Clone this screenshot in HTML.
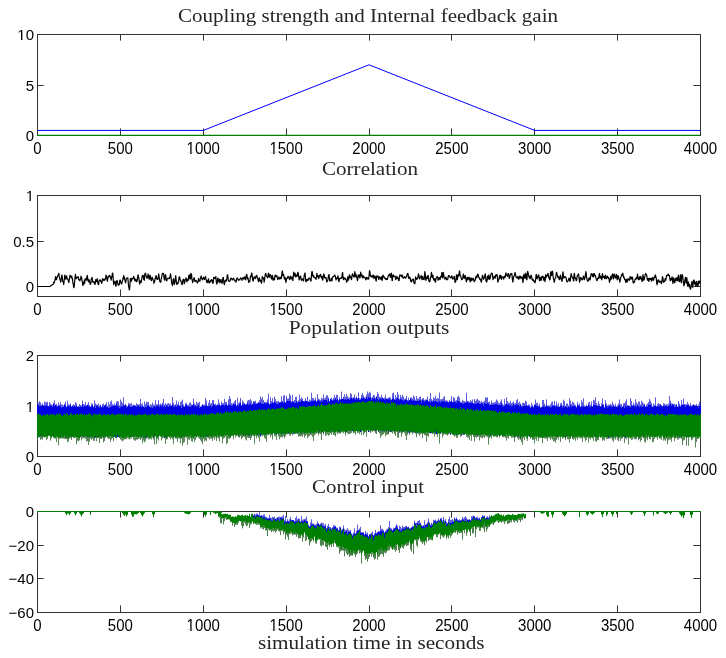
<!DOCTYPE html><html><head><meta charset="utf-8"><style>html,body{margin:0;padding:0;background:#fff;}svg{display:block;filter:blur(0.4px);}.tk{font-family:"Liberation Sans",sans-serif;font-size:15px;fill:#000;}.ti{font-family:"Liberation Serif",serif;font-size:19.5px;fill:#262626;}</style></head><body>
<svg width="726" height="658" viewBox="0 0 726 658">
<rect width="726" height="658" fill="#fff"/>
<path d="M37.5 135V128.4M37.5 34V40.6M120.5 135V128.4M120.5 34V40.6M203.5 135V128.4M203.5 34V40.6M286.5 135V128.4M286.5 34V40.6M369.5 135V128.4M369.5 34V40.6M451.5 135V128.4M451.5 34V40.6M534.5 135V128.4M534.5 34V40.6M617.5 135V128.4M617.5 34V40.6M700.5 135V128.4M700.5 34V40.6M37 135.5H43.6M700 135.5H693.4M37 85.5H43.6M700 85.5H693.4M37 34.5H43.6M700 34.5H693.4" fill="none" stroke="#333" stroke-width="1"/>
<rect x="37.5" y="34.5" width="663" height="101" fill="none" stroke="#333" stroke-width="1"/>
<path d="M37.5 296V289.4M37.5 195V201.6M120.5 296V289.4M120.5 195V201.6M203.5 296V289.4M203.5 195V201.6M286.5 296V289.4M286.5 195V201.6M369.5 296V289.4M369.5 195V201.6M451.5 296V289.4M451.5 195V201.6M534.5 296V289.4M534.5 195V201.6M617.5 296V289.4M617.5 195V201.6M700.5 296V289.4M700.5 195V201.6M37 286.5H43.6M700 286.5H693.4M37 241.5H43.6M700 241.5H693.4M37 195.5H43.6M700 195.5H693.4" fill="none" stroke="#333" stroke-width="1"/>
<rect x="37.5" y="195.5" width="663" height="101" fill="none" stroke="#333" stroke-width="1"/>
<path d="M37.5 456V449.4M37.5 355V361.6M120.5 456V449.4M120.5 355V361.6M203.5 456V449.4M203.5 355V361.6M286.5 456V449.4M286.5 355V361.6M369.5 456V449.4M369.5 355V361.6M451.5 456V449.4M451.5 355V361.6M534.5 456V449.4M534.5 355V361.6M617.5 456V449.4M617.5 355V361.6M700.5 456V449.4M700.5 355V361.6M37 456.5H43.6M700 456.5H693.4M37 406.5H43.6M700 406.5H693.4M37 355.5H43.6M700 355.5H693.4" fill="none" stroke="#333" stroke-width="1"/>
<rect x="37.5" y="355.5" width="663" height="101" fill="none" stroke="#333" stroke-width="1"/>
<path d="M37.5 612V605.4M37.5 511V517.6M120.5 612V605.4M120.5 511V517.6M203.5 612V605.4M203.5 511V517.6M286.5 612V605.4M286.5 511V517.6M369.5 612V605.4M369.5 511V517.6M451.5 612V605.4M451.5 511V517.6M534.5 612V605.4M534.5 511V517.6M617.5 612V605.4M617.5 511V517.6M700.5 612V605.4M700.5 511V517.6M37 612.5H43.6M700 612.5H693.4M37 578.5H43.6M700 578.5H693.4M37 545.5H43.6M700 545.5H693.4M37 511.5H43.6M700 511.5H693.4" fill="none" stroke="#333" stroke-width="1"/>
<rect x="37.5" y="511.5" width="663" height="101" fill="none" stroke="#333" stroke-width="1"/>
<path d="M37.5 130.45 L203.25 130.45 L369 64.8 L534.75 130.45 L700.5 130.45" fill="none" stroke="#0000ff" stroke-width="1"/>
<path d="M37 135.3 H700" fill="none" stroke="#008000" stroke-width="1.2"/>
<path d="M37.5 286.5 L37.87 286.5 L38.24 286.5 L38.61 286.5 L38.97 286.5 L39.34 286.5 L39.71 286.5 L40.08 286.5 L40.45 286.5 L40.82 286.5 L41.19 286.5 L41.55 286.5 L41.92 286.5 L42.29 286.5 L42.66 286.5 L43.03 286.5 L43.4 286.5 L43.77 286.5 L44.13 286.5 L44.5 286.5 L44.87 286.5 L45.24 286.5 L45.61 286.5 L45.98 286.5 L46.34 286.5 L46.71 286.5 L47.08 286.5 L47.45 286.5 L47.82 286.5 L48.19 286.5 L48.56 286.5 L48.92 286.5 L49.29 286.5 L49.66 286.5 L50.03 286.42 L50.4 286.16 L50.77 285.77 L51.14 285.29 L51.5 285.27 L51.87 284.93 L52.24 284.79 L52.61 284.57 L52.98 284.61 L53.35 283.63 L53.72 282.11 L54.08 283.18 L54.45 281.34 L54.82 280.9 L55.19 279.25 L55.56 276.66 L55.93 277.67 L56.3 279.75 L56.66 279.38 L57.03 277.33 L57.4 276.66 L57.77 275.45 L58.14 275.22 L58.51 274.11 L58.88 273.26 L59.24 276.81 L59.61 277.31 L59.98 279.87 L60.35 280.15 L60.72 282.18 L61.09 280.11 L61.45 277.69 L61.82 275 L62.19 275.73 L62.56 279.94 L62.93 281.77 L63.3 281.53 L63.67 284.63 L64.03 281.57 L64.4 278.75 L64.77 275.03 L65.14 276.18 L65.51 278.74 L65.88 279.12 L66.25 278.57 L66.61 275.89 L66.98 278.38 L67.35 278.77 L67.72 278.84 L68.09 280.24 L68.46 281.11 L68.83 282.62 L69.19 280.08 L69.56 278.44 L69.93 275.43 L70.3 275.46 L70.67 276.76 L71.04 276.55 L71.41 277.79 L71.77 276.06 L72.14 278.61 L72.51 278.83 L72.88 283.21 L73.25 283.62 L73.62 287.08 L73.99 287.64 L74.35 284.84 L74.72 280.71 L75.09 276.78 L75.46 274.24 L75.83 278.06 L76.2 278.65 L76.57 278.28 L76.93 277.21 L77.3 277.31 L77.67 277.39 L78.04 276.52 L78.41 277.56 L78.78 279.66 L79.14 279.92 L79.51 279.95 L79.88 280.9 L80.25 279.01 L80.62 279.25 L80.99 276.12 L81.36 277.28 L81.72 278 L82.09 280.95 L82.46 282.56 L82.83 285.34 L83.2 284.85 L83.57 282.41 L83.94 284.04 L84.3 280.32 L84.67 283.19 L85.04 279.17 L85.41 280.15 L85.78 278.57 L86.15 279.77 L86.52 280.16 L86.88 276.41 L87.25 275.39 L87.62 277.69 L87.99 280.5 L88.36 281.46 L88.73 281.83 L89.1 279.6 L89.46 281.29 L89.83 281.91 L90.2 284.45 L90.57 283.67 L90.94 283.2 L91.31 278.84 L91.68 278.74 L92.04 277.39 L92.41 279.53 L92.78 281.7 L93.15 282.39 L93.52 282.54 L93.89 281.54 L94.25 282.75 L94.62 283.57 L94.99 284.48 L95.36 283.13 L95.73 279.5 L96.1 281.65 L96.47 281.5 L96.83 280.35 L97.2 278.63 L97.57 282.41 L97.94 283.28 L98.31 284.7 L98.68 284.34 L99.05 280.44 L99.41 280.56 L99.78 279.93 L100.15 281.1 L100.52 280.04 L100.89 281.4 L101.26 281.92 L101.63 283.27 L101.99 282.67 L102.36 278.81 L102.73 279.33 L103.1 278.93 L103.47 280.24 L103.84 280.4 L104.21 280.59 L104.57 279.14 L104.94 279.7 L105.31 278.77 L105.68 277.74 L106.05 275.18 L106.42 275.57 L106.79 278.1 L107.15 280.76 L107.52 281.1 L107.89 277.75 L108.26 276.48 L108.63 276.94 L109 276.42 L109.36 275.29 L109.73 275.76 L110.1 275.93 L110.47 278.18 L110.84 277.12 L111.21 280.09 L111.58 277.54 L111.94 276.54 L112.31 273.78 L112.68 273.03 L113.05 276.42 L113.42 281.9 L113.79 284.65 L114.16 282.12 L114.52 282.53 L114.89 281.05 L115.26 281.94 L115.63 285.43 L116 286.35 L116.37 282.75 L116.74 280.94 L117.1 280.44 L117.47 281.57 L117.84 283.75 L118.21 285.2 L118.58 284.72 L118.95 284.96 L119.32 284.8 L119.68 280.86 L120.05 280.15 L120.42 280.08 L120.79 282.44 L121.16 283.36 L121.53 284.09 L121.9 283.22 L122.26 281.35 L122.63 280.91 L123 277.8 L123.37 277.36 L123.74 275.47 L124.11 278.99 L124.47 277.39 L124.84 279.88 L125.21 280.85 L125.58 282.87 L125.95 281.16 L126.32 278.71 L126.69 278.33 L127.05 277.94 L127.42 278.22 L127.79 277.78 L128.16 281.05 L128.53 285.95 L128.9 287.52 L129.27 289.88 L129.63 289.25 L130 283.46 L130.37 278.46 L130.74 279.34 L131.11 281.2 L131.48 281.18 L131.85 278.23 L132.21 278.15 L132.58 278.39 L132.95 278.96 L133.32 278.22 L133.69 276.38 L134.06 277.47 L134.43 278.33 L134.79 280.58 L135.16 279.28 L135.53 280.66 L135.9 279.01 L136.27 281.61 L136.64 281.54 L137.01 281.34 L137.37 279.98 L137.74 275.93 L138.11 274.77 L138.48 276.66 L138.85 278.08 L139.22 280.7 L139.59 284.05 L139.95 281.69 L140.32 281.58 L140.69 280.83 L141.06 282.54 L141.43 280.54 L141.8 278.8 L142.16 276.2 L142.53 275.65 L142.9 275.82 L143.27 275.48 L143.64 279.14 L144.01 279.72 L144.38 280.3 L144.74 274.96 L145.11 273.2 L145.48 273.08 L145.85 274.56 L146.22 276.52 L146.59 277.19 L146.96 278.3 L147.32 277.82 L147.69 276.26 L148.06 273.98 L148.43 275.49 L148.8 277.76 L149.17 279.3 L149.54 278.15 L149.9 275.02 L150.27 275.5 L150.64 278.05 L151.01 280.18 L151.38 280.53 L151.75 278.92 L152.12 277.12 L152.48 278.37 L152.85 279.13 L153.22 280.25 L153.59 280.91 L153.96 283.34 L154.33 281.25 L154.7 281.3 L155.06 278.42 L155.43 278.48 L155.8 276.2 L156.17 275.6 L156.54 277.46 L156.91 279.26 L157.27 279.11 L157.64 279.47 L158.01 279.07 L158.38 276.28 L158.75 273.94 L159.12 277.08 L159.49 279.05 L159.85 281.75 L160.22 281.32 L160.59 282.27 L160.96 281.6 L161.33 278.21 L161.7 277.5 L162.07 274.35 L162.43 273.54 L162.8 273.33 L163.17 273.59 L163.54 273.44 L163.91 276.87 L164.28 279.18 L164.65 280.25 L165.01 276.8 L165.38 274.53 L165.75 275.35 L166.12 279.31 L166.49 280.98 L166.86 280.66 L167.23 278.97 L167.59 278.61 L167.96 278.1 L168.33 278.27 L168.7 278.64 L169.07 278.66 L169.44 278.46 L169.81 277.51 L170.17 275.6 L170.54 273.74 L170.91 276.25 L171.28 278.92 L171.65 283.56 L172.02 283.3 L172.38 285.53 L172.75 283.41 L173.12 279.47 L173.49 278.77 L173.86 280.89 L174.23 284.44 L174.6 283.66 L174.96 281.74 L175.33 277.92 L175.7 275.66 L176.07 279.19 L176.44 282.64 L176.81 284.51 L177.18 283.29 L177.54 282.71 L177.91 283.67 L178.28 282.18 L178.65 281.58 L179.02 277.25 L179.39 276.83 L179.76 277.05 L180.12 279.95 L180.49 280.12 L180.86 281 L181.23 282.18 L181.6 283.58 L181.97 284.66 L182.34 284.24 L182.7 280.68 L183.07 279.58 L183.44 279.14 L183.81 279.68 L184.18 283.66 L184.55 283.01 L184.92 281.45 L185.28 279.3 L185.65 278.86 L186.02 277.75 L186.39 279.91 L186.76 281.68 L187.13 281.24 L187.49 279.83 L187.86 279.1 L188.23 280.38 L188.6 276.22 L188.97 275.5 L189.34 274.87 L189.71 278.72 L190.07 278.88 L190.44 278.92 L190.81 273.44 L191.18 274.99 L191.55 274.21 L191.92 279.46 L192.29 280.31 L192.65 282.6 L193.02 281.26 L193.39 279.02 L193.76 279.18 L194.13 277.56 L194.5 279.09 L194.87 281.45 L195.23 281.36 L195.6 280.96 L195.97 280.42 L196.34 281.05 L196.71 281.89 L197.08 282.22 L197.45 283.15 L197.81 282.2 L198.18 280.39 L198.55 278.62 L198.92 280.95 L199.29 280.89 L199.66 281.2 L200.03 280.91 L200.39 277.67 L200.76 277.92 L201.13 275.92 L201.5 278.3 L201.87 278.31 L202.24 279.45 L202.61 279.82 L202.97 278.08 L203.34 277.78 L203.71 277.16 L204.08 278.46 L204.45 279.49 L204.82 278.63 L205.18 277.6 L205.55 276.32 L205.92 279.17 L206.29 279.79 L206.66 282.03 L207.03 280.67 L207.4 282.57 L207.76 282.2 L208.13 280.43 L208.5 278.73 L208.87 281.75 L209.24 283.13 L209.61 282.86 L209.98 282.22 L210.34 280.76 L210.71 281.47 L211.08 280.78 L211.45 279.47 L211.82 279.95 L212.19 280 L212.56 282.83 L212.92 283.29 L213.29 282.38 L213.66 277.37 L214.03 277.77 L214.4 277.59 L214.77 278.64 L215.14 277.95 L215.5 277.39 L215.87 276.6 L216.24 281.09 L216.61 283.83 L216.98 283.85 L217.35 281.66 L217.72 278.26 L218.08 278.17 L218.45 280.77 L218.82 281.88 L219.19 280.66 L219.56 279.39 L219.93 282.89 L220.29 280.64 L220.66 281.33 L221.03 279.27 L221.4 281.79 L221.77 282.47 L222.14 283.42 L222.51 281.22 L222.87 277.72 L223.24 277.42 L223.61 280.33 L223.98 283.16 L224.35 284.55 L224.72 282.5 L225.09 280.41 L225.45 280.14 L225.82 280.62 L226.19 281.45 L226.56 280.17 L226.93 278.14 L227.3 275.08 L227.67 274.8 L228.03 277.95 L228.4 280.72 L228.77 281.21 L229.14 281.26 L229.51 281.44 L229.88 280.8 L230.25 280.46 L230.61 278.47 L230.98 278.21 L231.35 278.29 L231.72 278.51 L232.09 279.83 L232.46 279.86 L232.83 279.01 L233.19 278.73 L233.56 278.19 L233.93 278.76 L234.3 280.25 L234.67 280.05 L235.04 281.02 L235.4 280.89 L235.77 280.98 L236.14 282.24 L236.51 279.63 L236.88 278.2 L237.25 277.94 L237.62 278.65 L237.98 279.34 L238.35 280.09 L238.72 280.17 L239.09 279.97 L239.46 279.7 L239.83 279.94 L240.2 278.66 L240.56 277.92 L240.93 278.24 L241.3 278.71 L241.67 278.78 L242.04 280.35 L242.41 278.5 L242.78 277.93 L243.14 277.56 L243.51 278.12 L243.88 279.23 L244.25 278.62 L244.62 276.77 L244.99 276.86 L245.36 278.57 L245.72 279.95 L246.09 277 L246.46 274.36 L246.83 274.53 L247.2 276.92 L247.57 278.97 L247.94 277.73 L248.3 279.96 L248.67 282.5 L249.04 281.16 L249.41 281.74 L249.78 281.3 L250.15 278.85 L250.52 276.05 L250.88 276.78 L251.25 275.58 L251.62 272.97 L251.99 273.69 L252.36 277.15 L252.73 280.06 L253.09 281.15 L253.46 280.14 L253.83 277.69 L254.2 276.98 L254.57 276.85 L254.94 277.11 L255.31 278.65 L255.67 278.25 L256.04 276.46 L256.41 275.56 L256.78 275.4 L257.15 276.79 L257.52 278.14 L257.89 278.92 L258.25 281.16 L258.62 281.52 L258.99 278.85 L259.36 277.79 L259.73 279.12 L260.1 281.21 L260.47 280.82 L260.83 280.42 L261.2 282.21 L261.57 283.19 L261.94 279.96 L262.31 276.61 L262.68 277.22 L263.05 278.74 L263.41 278 L263.78 279.1 L264.15 282.23 L264.52 279.99 L264.89 276.57 L265.26 274.77 L265.63 273.32 L265.99 273.98 L266.36 275.88 L266.73 276.16 L267.1 276.4 L267.47 277.83 L267.84 277.15 L268.2 274.03 L268.57 273.12 L268.94 275.83 L269.31 277.29 L269.68 275.7 L270.05 274.6 L270.42 274.77 L270.78 275.8 L271.15 278.11 L271.52 279.05 L271.89 277.53 L272.26 275.38 L272.63 276.43 L273 280.1 L273.36 280.23 L273.73 278.34 L274.1 279.58 L274.47 279.58 L274.84 276.38 L275.21 274.96 L275.58 276.26 L275.94 276.52 L276.31 275.75 L276.68 275.58 L277.05 276.28 L277.42 278.7 L277.79 279.51 L278.16 278.46 L278.52 278.07 L278.89 276.98 L279.26 277.58 L279.63 279.15 L280 278.79 L280.37 277.67 L280.74 277.25 L281.1 278.74 L281.47 278.25 L281.84 274.13 L282.21 270.95 L282.58 272.03 L282.95 275.54 L283.31 275.8 L283.68 274.64 L284.05 277.24 L284.42 279.22 L284.79 277.71 L285.16 277.38 L285.53 280.2 L285.89 282.47 L286.26 280.96 L286.63 278.28 L287 278.39 L287.37 278.25 L287.74 276.66 L288.11 276.35 L288.47 276.88 L288.84 277.57 L289.21 278.73 L289.58 279.5 L289.95 278.31 L290.32 276.15 L290.69 276.98 L291.05 278.81 L291.42 278.48 L291.79 277.14 L292.16 277.35 L292.53 280.14 L292.9 280.43 L293.27 276.32 L293.63 272.13 L294 273.28 L294.37 275.87 L294.74 274.24 L295.11 273.27 L295.48 276.3 L295.85 277.08 L296.21 275.18 L296.58 274.82 L296.95 276.26 L297.32 275.95 L297.69 272.91 L298.06 272.19 L298.42 274.28 L298.79 277.46 L299.16 279.92 L299.53 278.29 L299.9 276.74 L300.27 276.36 L300.64 276.14 L301 278.87 L301.37 280.37 L301.74 278.82 L302.11 278.85 L302.48 279.47 L302.85 279.29 L303.22 280.88 L303.58 280.98 L303.95 277.38 L304.32 275.16 L304.69 273.54 L305.06 272.94 L305.43 277.31 L305.8 281.42 L306.16 281.63 L306.53 280.71 L306.9 279.3 L307.27 279.36 L307.64 280.63 L308.01 279.91 L308.38 279.73 L308.74 278.51 L309.11 277.81 L309.48 278.45 L309.85 278.59 L310.22 279.18 L310.59 280.76 L310.96 281.14 L311.32 277.39 L311.69 272.65 L312.06 271.3 L312.43 272.9 L312.8 275.85 L313.17 276.88 L313.54 275.48 L313.9 276.13 L314.27 277.66 L314.64 277.62 L315.01 277.69 L315.38 277.91 L315.75 278.62 L316.11 279.47 L316.48 276.51 L316.85 273.25 L317.22 275.23 L317.59 276.92 L317.96 275.6 L318.33 276.24 L318.69 278.63 L319.06 277.58 L319.43 275.25 L319.8 275.52 L320.17 275.02 L320.54 274.42 L320.91 276.49 L321.27 277.64 L321.64 276.27 L322.01 276.39 L322.38 279.48 L322.75 280.09 L323.12 277.74 L323.49 275.48 L323.85 273.81 L324.22 275.14 L324.59 277.71 L324.96 277.28 L325.33 277.49 L325.7 278.19 L326.07 277.56 L326.43 280.23 L326.8 282.1 L327.17 281.08 L327.54 280.94 L327.91 279.63 L328.28 277.06 L328.65 275.21 L329.01 274.51 L329.38 277.75 L329.75 280.88 L330.12 280.83 L330.49 280.67 L330.86 279.91 L331.22 278.31 L331.59 280.03 L331.96 280.97 L332.33 278.13 L332.7 276.82 L333.07 276.89 L333.44 276.54 L333.8 276.46 L334.17 275.88 L334.54 275.02 L334.91 275.44 L335.28 276.12 L335.65 277.9 L336.02 280.02 L336.38 279.33 L336.75 277.85 L337.12 278.54 L337.49 278.23 L337.86 275.79 L338.23 277.04 L338.6 281.18 L338.96 281.73 L339.33 279.41 L339.7 278.43 L340.07 278.66 L340.44 278.44 L340.81 277.99 L341.18 277.54 L341.54 278.19 L341.91 277.18 L342.28 273.28 L342.65 272.63 L343.02 277.07 L343.39 279.59 L343.76 278.32 L344.12 277.59 L344.49 278.87 L344.86 278.83 L345.23 278.26 L345.6 279.51 L345.97 279.84 L346.33 280.48 L346.7 282.15 L347.07 281.47 L347.44 278.56 L347.81 276.94 L348.18 278.44 L348.55 280.27 L348.91 278.09 L349.28 275 L349.65 274.87 L350.02 276.92 L350.39 277.65 L350.76 276.7 L351.13 278.01 L351.49 279.68 L351.86 277.42 L352.23 274.48 L352.6 273.82 L352.97 274.83 L353.34 275.74 L353.71 276.13 L354.07 277.24 L354.44 275.51 L354.81 271.67 L355.18 273.35 L355.55 276.8 L355.92 276.98 L356.29 275.18 L356.65 274.84 L357.02 278.23 L357.39 280.68 L357.76 279.09 L358.13 277.25 L358.5 275.85 L358.87 274.64 L359.23 275.07 L359.6 276.77 L359.97 278.03 L360.34 275 L360.71 272.21 L361.08 274.1 L361.44 276.2 L361.81 275.48 L362.18 274.98 L362.55 277.61 L362.92 278.12 L363.29 276.1 L363.66 276.14 L364.02 277.37 L364.39 277.62 L364.76 277.63 L365.13 277.64 L365.5 278.72 L365.87 279.88 L366.24 278.12 L366.6 277.2 L366.97 279 L367.34 278.56 L367.71 277.75 L368.08 278.94 L368.45 279.15 L368.82 278.3 L369.18 274.32 L369.55 270.55 L369.92 271.87 L370.29 275.23 L370.66 276.19 L371.03 276.45 L371.4 275.77 L371.76 275.93 L372.13 277.52 L372.5 276.93 L372.87 275.38 L373.24 274.99 L373.61 276.67 L373.98 278.54 L374.34 277.02 L374.71 275.97 L375.08 276.31 L375.45 277.04 L375.82 280.02 L376.19 281.18 L376.56 277.34 L376.92 275.59 L377.29 276.82 L377.66 276.65 L378.03 276.18 L378.4 278.16 L378.77 279.54 L379.13 277.46 L379.5 276.94 L379.87 277.96 L380.24 277.47 L380.61 278.87 L380.98 279.34 L381.35 276.72 L381.71 278.02 L382.08 280.51 L382.45 278.77 L382.82 275.32 L383.19 275.21 L383.56 277.13 L383.93 276.97 L384.29 276.95 L384.66 278.3 L385.03 278 L385.4 278.38 L385.77 279.7 L386.14 279.62 L386.51 278.56 L386.87 278.53 L387.24 279.45 L387.61 278.37 L387.98 276.3 L388.35 275.93 L388.72 275.22 L389.09 274.59 L389.45 273.93 L389.82 274.11 L390.19 276.66 L390.56 277.43 L390.93 276.12 L391.3 273.22 L391.67 274.69 L392.03 280.37 L392.4 280.4 L392.77 276.47 L393.14 274.86 L393.51 275.61 L393.88 276.55 L394.24 276.22 L394.61 276.06 L394.98 276 L395.35 277.51 L395.72 279.66 L396.09 278.95 L396.46 277.48 L396.82 276.36 L397.19 277.09 L397.56 278.27 L397.93 277.75 L398.3 278.88 L398.67 280.75 L399.04 280.58 L399.4 277.82 L399.77 275.09 L400.14 274.91 L400.51 275.35 L400.88 275.2 L401.25 276.09 L401.62 276.77 L401.98 275.2 L402.35 275.06 L402.72 277.08 L403.09 278.1 L403.46 277.58 L403.83 277.88 L404.2 277.78 L404.56 276.67 L404.93 276.91 L405.3 277.81 L405.67 278.21 L406.04 277.24 L406.41 276.91 L406.78 276.28 L407.14 274.05 L407.51 273.71 L407.88 273.44 L408.25 275.24 L408.62 278.32 L408.99 278.5 L409.35 277.17 L409.72 277.08 L410.09 277.71 L410.46 279.85 L410.83 281.46 L411.2 281.77 L411.57 281.6 L411.93 279.85 L412.3 279.61 L412.67 280.16 L413.04 278.92 L413.41 279.19 L413.78 282.02 L414.15 283.36 L414.51 283.4 L414.88 283.6 L415.25 280.2 L415.62 276.89 L415.99 277.84 L416.36 278.97 L416.73 279.5 L417.09 278.83 L417.46 278.19 L417.83 277.62 L418.2 275.26 L418.57 273.94 L418.94 275.76 L419.31 278.13 L419.67 278.92 L420.04 277.94 L420.41 277.04 L420.78 276.54 L421.15 275.5 L421.52 276.36 L421.89 279.71 L422.25 278.91 L422.62 276.48 L422.99 277.88 L423.36 279.17 L423.73 279.53 L424.1 279.59 L424.46 275.93 L424.83 271.67 L425.2 274.14 L425.57 278.94 L425.94 280.31 L426.31 277.99 L426.68 276.75 L427.04 278.55 L427.41 278.47 L427.78 275.61 L428.15 275.4 L428.52 278.17 L428.89 280.99 L429.26 281.58 L429.62 281.82 L429.99 281.05 L430.36 278.4 L430.73 277.28 L431.1 275.3 L431.47 272.45 L431.84 274.54 L432.2 277.48 L432.57 275.68 L432.94 275.23 L433.31 278.5 L433.68 279.92 L434.05 280.07 L434.42 279.21 L434.78 278.7 L435.15 281.78 L435.52 282.05 L435.89 279.45 L436.26 277.96 L436.63 277.39 L437 277.05 L437.36 276.56 L437.73 277.39 L438.1 280.05 L438.47 279.75 L438.84 278.45 L439.21 277.49 L439.58 277.79 L439.94 279.52 L440.31 278.76 L440.68 276.41 L441.05 276.91 L441.42 276.72 L441.79 272.63 L442.15 273 L442.52 277.86 L442.89 276.23 L443.26 272.32 L443.63 273.94 L444 276.84 L444.37 278.44 L444.73 279.05 L445.1 278.95 L445.47 278.27 L445.84 277.03 L446.21 277.9 L446.58 279.65 L446.95 279.94 L447.31 279.54 L447.68 279.28 L448.05 277.74 L448.42 275.58 L448.79 275.49 L449.16 275.87 L449.53 276.29 L449.89 277.06 L450.26 277.84 L450.63 277.31 L451 277.09 L451.37 277.27 L451.74 275.74 L452.11 276.63 L452.47 278.86 L452.84 279.15 L453.21 278.61 L453.58 278.01 L453.95 277.1 L454.32 276.31 L454.69 279.37 L455.05 282.44 L455.42 282.1 L455.79 281.29 L456.16 278.07 L456.53 274.75 L456.9 276.28 L457.26 279.65 L457.63 278.2 L458 274.56 L458.37 275.15 L458.74 276.09 L459.11 273.29 L459.48 270.95 L459.84 272.93 L460.21 275.76 L460.58 276.15 L460.95 276.53 L461.32 278.89 L461.69 279.8 L462.06 279.15 L462.42 279.14 L462.79 278.35 L463.16 275.18 L463.53 273.95 L463.9 276.93 L464.27 278.45 L464.64 277.52 L465 276 L465.37 275.61 L465.74 278.04 L466.11 280.68 L466.48 281.82 L466.85 279.93 L467.22 277.23 L467.58 277.85 L467.95 279.76 L468.32 279.18 L468.69 277.48 L469.06 277.16 L469.43 278.36 L469.8 279.97 L470.16 282.02 L470.53 279.82 L470.9 277.75 L471.27 280.62 L471.64 280.3 L472.01 278.25 L472.37 279.22 L472.74 279.94 L473.11 279.05 L473.48 278.3 L473.85 279.96 L474.22 281.86 L474.59 281.03 L474.95 280.51 L475.32 279.9 L475.69 277.88 L476.06 276.09 L476.43 276.68 L476.8 277.76 L477.17 276.2 L477.53 274.57 L477.9 274.12 L478.27 274.89 L478.64 277.26 L479.01 277.62 L479.38 277.83 L479.75 279.36 L480.11 279.25 L480.48 279.15 L480.85 280.72 L481.22 282.21 L481.59 281.15 L481.96 278 L482.33 275.48 L482.69 275.44 L483.06 277.24 L483.43 279.1 L483.8 279.08 L484.17 277.85 L484.54 277.29 L484.91 275.27 L485.27 273.9 L485.64 277.24 L486.01 280.98 L486.38 281.7 L486.75 281.9 L487.12 279.78 L487.48 276.01 L487.85 277.13 L488.22 279.25 L488.59 276.39 L488.96 274.93 L489.33 277.63 L489.7 279.33 L490.06 278.53 L490.43 276.9 L490.8 275.2 L491.17 273.81 L491.54 273.29 L491.91 273.13 L492.28 273.42 L492.64 276.39 L493.01 279.65 L493.38 278.67 L493.75 277.22 L494.12 277.05 L494.49 276.33 L494.86 277.86 L495.22 278.19 L495.59 275.18 L495.96 274.83 L496.33 275.81 L496.7 275.05 L497.07 274.59 L497.44 278.26 L497.8 282.13 L498.17 281.26 L498.54 279.76 L498.91 279.47 L499.28 276.89 L499.65 275.49 L500.02 278.09 L500.38 277.87 L500.75 275.01 L501.12 277.2 L501.49 279.34 L501.86 277.44 L502.23 276.84 L502.6 277.23 L502.96 276.84 L503.33 278.14 L503.7 279.17 L504.07 277.09 L504.44 276.3 L504.81 277.36 L505.17 277.23 L505.54 274.4 L505.91 272.88 L506.28 274.34 L506.65 274.97 L507.02 275.72 L507.39 276.34 L507.75 274.85 L508.12 273.62 L508.49 273.6 L508.86 275.77 L509.23 278.32 L509.6 277.98 L509.97 276.06 L510.33 274.27 L510.7 273.89 L511.07 274.35 L511.44 273.71 L511.81 273.5 L512.18 277.04 L512.55 281.02 L512.91 282.04 L513.28 279.45 L513.65 276.46 L514.02 276.14 L514.39 275.09 L514.76 273.33 L515.13 272.61 L515.49 273.97 L515.86 276.63 L516.23 277.48 L516.6 277.12 L516.97 277.36 L517.34 278.3 L517.71 276.66 L518.07 276.3 L518.44 278.99 L518.81 279.14 L519.18 278.48 L519.55 277.05 L519.92 275.94 L520.28 276.17 L520.65 277.67 L521.02 278.66 L521.39 277.56 L521.76 276.94 L522.13 276.7 L522.5 278.9 L522.86 282.53 L523.23 280.86 L523.6 276.08 L523.97 274.09 L524.34 275.24 L524.71 277.88 L525.08 278.43 L525.44 274.71 L525.81 273.16 L526.18 276.1 L526.55 279.24 L526.92 279.82 L527.29 275 L527.66 271.26 L528.02 272.63 L528.39 274.06 L528.76 276.23 L529.13 277.45 L529.5 276.86 L529.87 278.6 L530.24 278.61 L530.6 276.29 L530.97 275.2 L531.34 275.54 L531.71 277.02 L532.08 279.57 L532.45 280.21 L532.82 278.96 L533.18 279.59 L533.55 281.13 L533.92 280.92 L534.29 280.78 L534.66 282.24 L535.03 282.75 L535.39 281.26 L535.76 278.12 L536.13 274.61 L536.5 274.62 L536.87 278.49 L537.24 278.77 L537.61 276.26 L537.97 276.96 L538.34 276.47 L538.71 274.81 L539.08 277.38 L539.45 280.68 L539.82 280.16 L540.19 277.41 L540.55 277.56 L540.92 280.32 L541.29 279.81 L541.66 276.77 L542.03 276.27 L542.4 277.21 L542.77 276.04 L543.13 277.07 L543.5 280.04 L543.87 278.86 L544.24 277.19 L544.61 279.73 L544.98 281.74 L545.35 278.93 L545.71 274.68 L546.08 275.46 L546.45 277.1 L546.82 275.29 L547.19 275.93 L547.56 275.38 L547.93 273.32 L548.29 274.23 L548.66 277.06 L549.03 278.39 L549.4 277.36 L549.77 279.84 L550.14 279.42 L550.51 273.49 L550.87 271.54 L551.24 273.88 L551.61 275.61 L551.98 273.5 L552.35 271.16 L552.72 272.43 L553.08 276.28 L553.45 278.8 L553.82 279.9 L554.19 282.17 L554.56 281.43 L554.93 278.75 L555.3 278.36 L555.66 277.91 L556.03 275.36 L556.4 272.29 L556.77 272.82 L557.14 274.81 L557.51 275.67 L557.88 277.67 L558.24 277.46 L558.61 276.65 L558.98 278.65 L559.35 279.69 L559.72 279.48 L560.09 276.72 L560.46 275.12 L560.82 277.08 L561.19 278.46 L561.56 279.77 L561.93 281.31 L562.3 279.41 L562.67 273.96 L563.04 271.81 L563.4 275.45 L563.77 278.13 L564.14 277.67 L564.51 277.26 L564.88 276.67 L565.25 276.57 L565.62 276.93 L565.98 277.55 L566.35 279.25 L566.72 281.02 L567.09 281.97 L567.46 281.7 L567.83 281.1 L568.19 280.46 L568.56 279.59 L568.93 278.09 L569.3 278.27 L569.67 280.7 L570.04 281.38 L570.41 279.73 L570.77 276.06 L571.14 273.52 L571.51 275.17 L571.88 276.46 L572.25 277.04 L572.62 278.03 L572.99 277.28 L573.35 280.28 L573.72 281.01 L574.09 274.07 L574.46 273.43 L574.83 277.94 L575.2 278.52 L575.57 277.85 L575.93 279.03 L576.3 280.77 L576.67 279.77 L577.04 277.09 L577.41 275.65 L577.78 275.11 L578.15 274.3 L578.51 273.88 L578.88 276.57 L579.25 279.56 L579.62 282.14 L579.99 280.68 L580.36 277.57 L580.73 277.98 L581.09 277.76 L581.46 278.29 L581.83 279.92 L582.2 279.73 L582.57 279.42 L582.94 278.32 L583.3 276.14 L583.67 276.37 L584.04 278.93 L584.41 279.64 L584.78 278.31 L585.15 277.1 L585.52 274 L585.88 271.6 L586.25 274.16 L586.62 277.51 L586.99 279.04 L587.36 280.59 L587.73 281.34 L588.1 281.08 L588.46 280.12 L588.83 278.72 L589.2 277.65 L589.57 278.41 L589.94 280.05 L590.31 279.05 L590.68 275.81 L591.04 274.12 L591.41 273.68 L591.78 273.79 L592.15 275.01 L592.52 276.67 L592.89 274.68 L593.26 273.77 L593.62 276.79 L593.99 275.67 L594.36 273.71 L594.73 275.24 L595.1 275.26 L595.47 275.64 L595.84 277.69 L596.2 278.63 L596.57 279.91 L596.94 280.65 L597.31 279.94 L597.68 278.81 L598.05 277.67 L598.41 278.45 L598.78 278.54 L599.15 274.69 L599.52 273.45 L599.89 275.93 L600.26 278.01 L600.63 278.04 L600.99 276.69 L601.36 278.11 L601.73 279.91 L602.1 275.43 L602.47 273.52 L602.84 277.69 L603.21 277.49 L603.57 276.42 L603.94 276.34 L604.31 276.46 L604.68 278.57 L605.05 277.19 L605.42 275.14 L605.79 277.3 L606.15 278.73 L606.52 278.46 L606.89 277.06 L607.26 276.02 L607.63 276.94 L608 277.88 L608.37 278.32 L608.73 277.44 L609.1 279.44 L609.47 282.43 L609.84 280.83 L610.21 279.92 L610.58 277.94 L610.95 276.01 L611.31 279.03 L611.68 279.1 L612.05 275.49 L612.42 274.45 L612.79 273.99 L613.16 276.06 L613.53 278.79 L613.89 277.1 L614.26 274.1 L614.63 274.4 L615 276.55 L615.37 277.5 L615.74 278.18 L616.1 276.85 L616.47 274.25 L616.84 276.55 L617.21 279.94 L617.58 278.68 L617.95 275.79 L618.32 275.64 L618.68 277.81 L619.05 278.95 L619.42 279.73 L619.79 282.07 L620.16 280.93 L620.53 277.83 L620.9 277.33 L621.26 276.23 L621.63 274.3 L622 275.43 L622.37 275.19 L622.74 273.15 L623.11 274.98 L623.48 277.38 L623.84 276.78 L624.21 277.65 L624.58 279.51 L624.95 279.16 L625.32 280.45 L625.69 282.45 L626.06 280.83 L626.42 279.4 L626.79 281.04 L627.16 282.21 L627.53 280.57 L627.9 278.5 L628.27 279.25 L628.64 279.81 L629 279.3 L629.37 280.31 L629.74 278.71 L630.11 276.65 L630.48 279.06 L630.85 278.84 L631.21 277.11 L631.58 278.24 L631.95 279.06 L632.32 277.01 L632.69 278.09 L633.06 282.34 L633.43 283.04 L633.79 282.06 L634.16 282.29 L634.53 281.79 L634.9 280.13 L635.27 279 L635.64 279.43 L636.01 278.18 L636.37 277.81 L636.74 278.86 L637.11 276.71 L637.48 274.07 L637.85 276.27 L638.22 279.06 L638.59 279.68 L638.95 279.78 L639.32 277.61 L639.69 276.72 L640.06 279.1 L640.43 278.22 L640.8 276.45 L641.17 277.72 L641.53 279.21 L641.9 280.98 L642.27 281.36 L642.64 277.8 L643.01 274.62 L643.38 277.26 L643.75 280.18 L644.11 280.01 L644.48 278.4 L644.85 276.69 L645.22 274.77 L645.59 273.33 L645.96 274.01 L646.32 274.47 L646.69 275.09 L647.06 277.73 L647.43 280.18 L647.8 279.6 L648.17 278.31 L648.54 280.53 L648.9 281.47 L649.27 278.56 L649.64 278.29 L650.01 279.52 L650.38 279.08 L650.75 278.23 L651.12 278.56 L651.48 281.06 L651.85 280.76 L652.22 278.01 L652.59 277.55 L652.96 278.96 L653.33 280.24 L653.7 280.19 L654.06 277.67 L654.43 276.6 L654.8 277.41 L655.17 274.97 L655.54 275.14 L655.91 277.28 L656.28 278.39 L656.64 282.26 L657.01 284.78 L657.38 283.28 L657.75 280.82 L658.12 280 L658.49 279.82 L658.86 281.11 L659.22 282.41 L659.59 281.29 L659.96 281.75 L660.33 281.79 L660.7 281.17 L661.07 282.65 L661.43 283.71 L661.8 282.14 L662.17 279.01 L662.54 276.7 L662.91 277.85 L663.28 280.99 L663.65 282.48 L664.01 281.1 L664.38 280.98 L664.75 281.25 L665.12 278.64 L665.49 279.12 L665.86 280.19 L666.23 277.3 L666.59 275.27 L666.96 275.31 L667.33 275.62 L667.7 275.61 L668.07 274.18 L668.44 274.46 L668.81 275.74 L669.17 275.16 L669.54 276.23 L669.91 279.07 L670.28 280.78 L670.65 279.39 L671.02 278.62 L671.39 280 L671.75 278.2 L672.12 276.78 L672.49 280.01 L672.86 283.33 L673.23 280.5 L673.6 277.92 L673.97 279.32 L674.33 281.79 L674.7 282.91 L675.07 280.35 L675.44 278.24 L675.81 279.44 L676.18 280.89 L676.55 279.26 L676.91 277.46 L677.28 278.18 L677.65 280.61 L678.02 278.62 L678.39 275.14 L678.76 278.88 L679.12 281.77 L679.49 281.46 L679.86 280.28 L680.23 275.61 L680.6 274.79 L680.97 280.94 L681.34 282.82 L681.7 277.23 L682.07 274.56 L682.44 275.15 L682.81 277.43 L683.18 281.19 L683.55 283.45 L683.92 285.82 L684.28 284.78 L684.65 281.34 L685.02 279.29 L685.39 277.31 L685.76 280.3 L686.13 283.21 L686.5 279.69 L686.86 277.51 L687.23 281.9 L687.6 286.08 L687.97 283.48 L688.34 281.76 L688.71 285.67 L689.08 286.84 L689.44 284.15 L689.81 285.53 L690.18 288.8 L690.55 289.14 L690.92 287.8 L691.29 285.67 L691.66 283.42 L692.02 281.48 L692.39 283.81 L692.76 287.31 L693.13 284.11 L693.5 280.65 L693.87 279.97 L694.23 280.62 L694.6 283.94 L694.97 284.13 L695.34 282.04 L695.71 285.63 L696.08 286.49 L696.45 281.75 L696.81 281.29 L697.18 283.51 L697.55 285.36 L697.92 286.11 L698.29 284.39 L698.66 281.03 L699.03 281.35 L699.39 283.08 L699.76 281.14 L700.13 281.77 L700.5 282.46" fill="none" stroke="#000" stroke-width="1.2" stroke-linejoin="round"/>
<path d="M37.5 402.08V406.11M38.5 402.88V404.85M39.5 401.17V406.43M40.5 402.44V405.75M41.5 404.62V405.77M42.5 403.31V404.81M43.5 405.05V405.54M44.5 401.49V405.42M45.5 402.2V405.97M46.5 402.29V404.84M47.5 401.78V406.04M48.5 406.01V406.1M49.5 401.95V405.1M50.5 403.41V405.5M51.5 404.57V405.31M52.5 404.72V406.73M53.5 402.53V403.98M54.5 400.31V405.73M55.5 404.52V404.67M56.5 403.78V405.65M57.5 405.36V406.68M58.5 402.33V405.5M59.5 404.71V406.11M60.5 402.3V405.32M61.5 404.26V407.55M62.5 404.73V406.73M63.5 405.41V406.9M64.5 403.71V404.94M65.5 401.66V405.12M66.5 406.68V406.86M67.5 400.67V405.84M68.5 404.25V405.79M69.5 404.65V406.27M70.5 403.36V405M71.5 406.2V406.62M72.5 405.37V406.01M73.5 403.99V406.38M74.5 405.01V405.46M75.5 402.15V406.41M76.5 403.26V405.44M77.5 406.44V406.76M78.5 405.89V406.9M79.5 403.99V406.73M80.5 405.03V406.41M81.5 405.48V406.51M82.5 400.65V403.84M83.5 404.24V406.67M84.5 404.5V405.78M85.5 402.09V406.08M86.5 405.47V405.77M87.5 404.37V404.89M88.5 402.15V405.57M89.5 404.74V406.53M90.5 406.37V407.13M91.5 403.44V405.5M92.5 403.71V405.28M93.5 406.54V407.16M94.5 400.3V405.29M95.5 403.34V407.66M96.5 404.3V406.04M97.5 404.63V405.29M98.5 403.74V406.79M99.5 405.82V407.35M100.5 404.82V404.85M101.5 406.73V407.25M102.5 404.08V405.77M103.5 403.7V407.19M104.5 405V405.7M105.5 403.94V404.74M106.5 402.27V406.4M107.5 405.8V406.74M108.5 401.84V407.68M109.5 404.33V407.38M110.5 401.67V406.56M111.5 400.55V405.81M112.5 404.05V405.58M113.5 404.71V405.76M114.5 403.4V405.34M115.5 405.13V405.78M116.5 401.55V403.96M117.5 401.11V406.14M118.5 401.62V405.98M119.5 405.34V408.05M120.5 399.48V406.61M121.5 401.46V405.62M122.5 402.87V406.45M123.5 397.37V405.02M124.5 404.83V405.52M125.5 404.21V404.51M126.5 405.17V407.15M127.5 406.25V406.47M128.5 403.24V405.06M129.5 403.36V405.95M130.5 403.93V406.76M131.5 402.99V406.4M132.5 405.43V406.31M133.5 404.49V405.31M134.5 405.15V405.49M135.5 405.19V406.08M136.5 403.25V406.74M137.5 404.28V405.34M138.5 404.64V405.1M139.5 404.18V406.92M140.5 398.97V405.26M141.5 403.8V406.86M142.5 403.44V406.19M143.5 406.03V406.7M144.5 401.44V407.4M145.5 404.02V406.55M146.5 401.74V406.62M147.5 402.21V405.27M148.5 401.94V405.44M149.5 405.72V406.52M150.5 404.08V407.23M151.5 404.86V407.11M152.5 402.56V407.85M153.5 404.65V406.25M154.5 404.6V406.16M155.5 400.16V406.8M156.5 404.39V406.02M157.5 403.95V405.95M158.5 400.15V405.16M159.5 404.6V406.79M160.5 403.53V405.14M161.5 404.32V406.41M162.5 402.4V404.86M163.5 398.95V406.88M164.5 404.73V405.18M165.5 402.98V406.67M166.5 404.53V404.73M167.5 403.47V405.65M168.5 403.04V406.94M169.5 403.97V405.36M170.5 403.46V406.05M171.5 405.4V405.62M172.5 397.01V404.15M173.5 402.57V406.25M174.5 404.87V406.35M175.5 404.49V405.11M176.5 400.51V406.46M177.5 404.19V405.36M178.5 401.76V405.2M179.5 405.26V406.01M180.5 402.15V405.45M181.5 401.11V407.83M182.5 399.62V404.76M183.5 404.47V406.59M184.5 406.38V406.79M185.5 403.37V404.42M186.5 402.73V404.61M187.5 404.55V406.45M188.5 405.23V405.61M189.5 402.63V406.31M190.5 402.51V406.91M191.5 404.21V405.7M192.5 404.81V405.15M193.5 398.79V403.82M194.5 403.44V406.16M195.5 405.14V405.26M196.5 401.76V406.25M197.5 403.23V406.19M198.5 402.67V404.89M199.5 401.85V407.38M200.5 406.4V406.87M201.5 405.42V406.68M202.5 404.05V405.05M203.5 404.59V405.66M204.5 404.63V405.5M205.5 397.82V405.56M206.5 400.69V404.94M207.5 405.69V406.14M208.5 402.82V405.93M209.5 400.01V405.99M210.5 403.41V405.25M211.5 403.22V406.63M212.5 400.15V405.7M213.5 399.96V403.32M214.5 404.25V404.94M215.5 403.53V405.36M216.5 404.76V406.13M217.5 404.29V405.07M218.5 399.39V405.06M219.5 403.09V404.69M220.5 405.5V405.7M221.5 401.56V404.76M222.5 403.15V404.59M223.5 403.16V404.43M224.5 398.77V405.42M225.5 401.86V404.5M226.5 401.89V403.54M227.5 405.28V405.33M228.5 399.34V404.22M229.5 396.05V405.02M230.5 398.55V404.98M231.5 403.07V405.6M232.5 403.62V405.42M233.5 402.79V404.08M234.5 401.24V404.36M235.5 400.01V403.41M236.5 405.43V405.74M237.5 397.68V404.7M238.5 403.38V405.41M239.5 401.93V404M240.5 397.87V402.56M241.5 405.13V405.38M242.5 400.45V404.18M243.5 402.02V404.16M244.5 403.19V404.05M245.5 404.41V404.48M246.5 403.9V404.34M247.5 400.66V402.59M248.5 399.94V404.69M249.5 400.15V403.34M250.5 399.02V403.35M251.5 400.69V405.05M252.5 403.29V404.36M253.5 401.01V403.3M254.5 401.43V402.04M255.5 400.75V403.61M256.5 403.29V403.86M257.5 402.9V403.32M258.5 402.23V402.34M259.5 400.26V402.65M260.5 396.52V402.23M261.5 398.8V403.36M262.5 397.15V403.8M263.5 400.04V403.91M264.5 402.3V402.46M265.5 401.84V403.18M266.5 401.82V403.39M267.5 399.36V402.49M268.5 393.73V402.73M269.5 404.11V404.5M270.5 397.22V402.92M271.5 400.99V403.41M272.5 398.15V402.31M273.5 402.51V402.64M274.5 396.71V401.19M275.5 398.94V402.49M276.5 401.46V403.42M277.5 401.3V404.1M278.5 400.95V403.33M279.5 401.89V402.87M280.5 401.71V402.31M281.5 396.32V401.74M282.5 400.82V402.05M283.5 395.58V402.62M284.5 395.07V401.45M285.5 402.28V402.78M286.5 395.88V401.19M287.5 398.76V400.51M288.5 398.47V401.08M289.5 393.61V400.5M290.5 395.47V400.69M291.5 401.35V402.65M292.5 394.69V401.53M293.5 401V401.82M294.5 400V402.52M295.5 396.96V402.55M296.5 396.77V401.1M297.5 401.25V402.51M298.5 400.3V401.71M299.5 394.56V401.36M300.5 399.05V401.66M301.5 397.32V400.12M302.5 398.59V400.58M303.5 400.97V401.07M304.5 400.6V401.6M305.5 398.05V400.77M306.5 400.77V400.91M307.5 396.75V401.74M308.5 401.15V402.05M309.5 399.5V401.49M310.5 400.27V401.84M311.5 392.67V400.45M312.5 397.89V400.48M313.5 398.08V400.93M314.5 399.76V400.39M315.5 397.55V400.18M316.5 400.97V401.86M317.5 394.1V400.32M318.5 398.64V399.66M319.5 399.37V400.78M320.5 399.88V401.81M321.5 397.87V400.36M322.5 398.65V401.23M323.5 394.4V399.85M324.5 398.31V399.75M325.5 397.49V399.55M326.5 395.1V399.94M327.5 395.42V401.47M328.5 397.35V399.03M329.5 401.18V401.22M330.5 398.61V399.05M331.5 397.71V399.62M332.5 399.39V400.43M333.5 397.94V400.22M334.5 394.89V399.89M335.5 397.49V398.3M336.5 394.75V399.86M337.5 395.04V398.7M338.5 399.87V401.53M339.5 397.36V399.25M340.5 399.14V399.53M341.5 391.59V398.41M342.5 398.82V398.9M343.5 396.81V398.2M344.5 394.25V399.97M345.5 397.03V398.92M346.5 393.64V399.54M347.5 396.1V398.49M348.5 397.55V398.59M349.5 397.57V399.97M350.5 393.07V398.12M351.5 394.05V397.4M352.5 397.62V399.12M353.5 397.27V397.84M354.5 394.44V398.35M355.5 397.82V399.38M356.5 396.2V397.95M357.5 398.23V399.26M358.5 392.39V397.96M359.5 398.17V399.65M360.5 398.78V399.47M361.5 394.95V397.98M362.5 392.96V398.14M363.5 395.55V397.6M364.5 397.26V398.38M365.5 397.57V399.09M366.5 394.81V396.96M367.5 391.49V398.81M368.5 393.41V396.96M369.5 391.7V397.34M370.5 392.77V396.64M371.5 397.95V399.8M372.5 396.52V398.22M373.5 394.95V398.41M374.5 395.18V397.72M375.5 397.78V399.17M376.5 396.17V396.68M377.5 392.17V398.43M378.5 393.95V400.22M379.5 397.17V398.2M380.5 397.06V398.57M381.5 394.77V399.14M382.5 397.27V398M383.5 398.07V398.72M384.5 397.51V399.52M385.5 394.71V398.95M386.5 398.26V399.14M387.5 398.6V398.61M388.5 397.53V399.19M389.5 397.04V399.03M390.5 397.54V400.2M391.5 399.53V399.67M392.5 393.44V398.94M393.5 392.46V397.23M394.5 398.96V399.8M395.5 394.89V399.88M396.5 397.18V398.59M397.5 391.98V397.78M398.5 394.46V398.51M399.5 398.72V400.21M400.5 394.93V398.67M401.5 397.02V399.2M402.5 394.84V399.79M403.5 396.47V400.64M404.5 399.1V399.7M405.5 398.09V399.68M406.5 395.93V399.37M407.5 399.92V401.16M408.5 397.6V400.76M409.5 399.84V399.88M410.5 397.5V398.89M411.5 397.32V399.42M412.5 398.54V400.56M413.5 395.42V399.57M414.5 396.8V400.91M415.5 399.65V400.53M416.5 396.05V400.53M417.5 398.45V400.86M418.5 398.72V400.79M419.5 397.06V399.75M420.5 396.59V400.23M421.5 399.5V402.41M422.5 398.32V399.62M423.5 398.08V400.25M424.5 399.8V401.53M425.5 399.62V400.6M426.5 399.28V400.13M427.5 396.41V399.76M428.5 400.94V401.3M429.5 398.62V401.74M430.5 393.09V402.09M431.5 399.09V401.06M432.5 400.41V401.9M433.5 397.1V400.29M434.5 398.25V401.3M435.5 395.54V400.67M436.5 398.84V401.4M437.5 397.96V401.91M438.5 398.44V402.21M439.5 392.55V400.61M440.5 399.32V402.46M441.5 399.27V401.12M442.5 398.92V400.73M443.5 397.35V401.46M444.5 396.12V400.47M445.5 400.5V401.7M446.5 400.23V401.97M447.5 400.71V401.63M448.5 401.6V402.27M449.5 399.81V401.63M450.5 400.99V401.94M451.5 396.26V400.83M452.5 401.95V402.06M453.5 397.1V401.4M454.5 397.92V401.77M455.5 400.57V402.1M456.5 400.1V402.38M457.5 396.94V400.95M458.5 395.83V401.07M459.5 397.48V402.13M460.5 401.37V402.8M461.5 402.19V402.75M462.5 399.7V403.23M463.5 400.94V403.6M464.5 401.19V403.01M465.5 401.6V402.64M466.5 392.88V401.88M467.5 400.84V402M468.5 400.94V402.43M469.5 401.92V403.06M470.5 400.03V403.08M471.5 401.04V402.95M472.5 399.48V402.87M473.5 403.03V403.55M474.5 399.09V403.26M475.5 400.97V403.38M476.5 399.4V403.44M477.5 398.67V402.8M478.5 400.26V402.46M479.5 400.64V403.73M480.5 402.26V403.71M481.5 400.99V403.25M482.5 402.29V403.15M483.5 401.84V405.35M484.5 400.68V402.97M485.5 397.22V403.45M486.5 397.93V403.88M487.5 397.24V402.8M488.5 402.02V403.86M489.5 401.79V405.25M490.5 403.83V404.61M491.5 400.48V404.42M492.5 402.77V404.43M493.5 402.53V404.1M494.5 402.38V404.82M495.5 401.73V403.98M496.5 399.48V403.82M497.5 400.64V404.28M498.5 402.57V404.97M499.5 403.33V404.56M500.5 401.25V404.89M501.5 399.39V402.78M502.5 403.57V405.4M503.5 404.85V406.36M504.5 399.07V405.61M505.5 403.69V404.33M506.5 397.36V403.96M507.5 400.98V404.91M508.5 402.71V403.94M509.5 402.79V405.36M510.5 400.79V404.41M511.5 403.18V405.65M512.5 402.66V406.02M513.5 401.25V403.35M514.5 403.49V405.26M515.5 403.08V404.51M516.5 400.13V403.99M517.5 399.06V404.67M518.5 402.78V405.04M519.5 401.58V406.09M520.5 403.6V404.1M521.5 405.56V406.2M522.5 402.81V407.02M523.5 402.87V405.93M524.5 403.15V405.94M525.5 400.63V405.54M526.5 401.8V404.66M527.5 405.35V406.08M528.5 404.22V406.01M529.5 404.84V406.33M530.5 406.54V407.85M531.5 402.91V406.43M532.5 404.9V406.23M533.5 406.37V407.19M534.5 404.04V404.91M535.5 399.55V405.09M536.5 402.98V405.7M537.5 402.57V405.48M538.5 405.43V406.56M539.5 403.5V405.75M540.5 407.31V407.39M541.5 406.7V407.22M542.5 399.84V406.62M543.5 400.07V405.69M544.5 403.52V406.49M545.5 405.46V406.65M546.5 399.34V405.15M547.5 405.71V406.28M548.5 404.95V406.56M549.5 406.14V406.17M550.5 404.35V407.26M551.5 402.28V406.97M552.5 401.5V405.34M553.5 404.86V406.1M554.5 400.93V405.33M555.5 405.34V406.46M556.5 401.71V405.31M557.5 405.15V406.74M558.5 403.16V406.31M559.5 406.72V406.78M560.5 403.27V405.88M561.5 402.92V404.83M562.5 405.38V407.41M563.5 399.66V405.86M564.5 400.97V407.1M565.5 405.64V406.34M566.5 403.45V406.54M567.5 403.59V407.46M568.5 405.48V406.27M569.5 398.4V407.12M570.5 400.65V404.81M571.5 403.95V406.7M572.5 401.62V405.81M573.5 402.43V405.89M574.5 403.77V406.01M575.5 405.23V406.28M576.5 406.71V407.33M577.5 401.81V404.52M578.5 404.39V406.04M579.5 403.32V405.43M580.5 406.6V406.93M581.5 400.19V405.66M582.5 402.24V406.37M583.5 398.38V405.68M584.5 405.44V406.53M585.5 406.07V406.81M586.5 404.62V405.68M587.5 405.92V406.04M588.5 402.3V404.86M589.5 401.84V406.24M590.5 404.6V406.69M591.5 401.5V405.56M592.5 405.95V406.9M593.5 399.84V404.34M594.5 400.36V404.52M595.5 397.27V404.89M596.5 402.97V405.61M597.5 404.8V406.01M598.5 401.13V405.94M599.5 403.77V405.95M600.5 406.2V406.58M601.5 403.13V405.62M602.5 398.57V404.99M603.5 404.27V405M604.5 407.14V407.69M605.5 400.12V404.12M606.5 403.54V405.86M607.5 405.29V407.17M608.5 404.76V406.39M609.5 405.28V405.34M610.5 403.83V406M611.5 404.7V406.69M612.5 401.79V406.97M613.5 404.19V405.28M614.5 405.79V406.61M615.5 403.6V406.2M616.5 406.48V406.88M617.5 405.05V407.11M618.5 403.26V405.73M619.5 399.48V404.84M620.5 404.14V406.32M621.5 403.87V407.42M622.5 406.44V406.55M623.5 403.33V406.18M624.5 403.02V407.92M625.5 401.57V405.17M626.5 399.31V406.72M627.5 404.83V405.54M628.5 405.3V406.04M629.5 405.88V406.07M630.5 398.21V407.21M631.5 401.03V405.25M632.5 405.54V405.57M633.5 402.85V404.73M634.5 404.64V406.39M635.5 399.19V405.63M636.5 402.51V406.34M637.5 403.88V405.14M638.5 401.46V405.71M639.5 401.59V406.83M640.5 404.48V405.86M641.5 400.69V406.5M642.5 402.03V406.42M643.5 403.68V405.72M644.5 403.61V404.75M645.5 406.45V406.79M646.5 404.52V406.14M647.5 403.58V406.79M648.5 402.06V404.39M649.5 398.96V404.68M650.5 400.6V404.29M651.5 402.91V405.3M652.5 406.35V406.83M653.5 403.53V406.45M654.5 404.75V405.97M655.5 397.35V406.1M656.5 405.88V406.61M657.5 404V405.76M658.5 402.87V406.32M659.5 403.87V406.11M660.5 404.17V404.25M661.5 405V405.69M662.5 405.81V407.09M663.5 403.18V405.68M664.5 403.6V405.89M665.5 404.61V405.51M666.5 404.32V405.61M667.5 404.37V406.9M668.5 403.49V405.79M669.5 396.18V405.18M670.5 400.84V403.51M671.5 403.21V405.54M672.5 403.42V404.43M673.5 404V404.54M674.5 403.87V406.64M675.5 404.71V406.57M676.5 404.09V404.47M677.5 406.61V406.68M678.5 401.09V406.37M679.5 403.53V405.37M680.5 405.67V406.59M681.5 400V404.7M682.5 404V405.04M683.5 398.72V404.85M684.5 403.99V405.11M685.5 404.13V406.7M686.5 404.59V404.93M687.5 401.93V405.08M688.5 403.83V405.24M689.5 405.36V406.16M690.5 403.05V405.73M691.5 405.38V406.69M692.5 405.12V405.43M693.5 404.07V404.97M694.5 404.84V405.6M695.5 405.01V406.03M696.5 403.88V405.25M697.5 406.14V406.22M698.5 404.59V407.45M699.5 401.75V405.53M700.5 402.13V406.03" fill="none" stroke="#2020d0" stroke-opacity="0.72" stroke-width="1"/>
<path d="M37.5 406.11V436.11M38.5 404.85V435.04M39.5 406.43V437.03M40.5 405.75V436.02M41.5 405.77V436.18M42.5 404.81V436.45M43.5 405.54V435.98M44.5 405.42V435.62M45.5 405.97V436.47M46.5 404.84V435.6M47.5 406.04V436.07M48.5 406.1V435.33M49.5 405.1V434.51M50.5 405.5V435.33M51.5 405.31V435.5M52.5 406.73V436.01M53.5 403.98V437.18M54.5 405.73V434.31M55.5 404.67V436.13M56.5 405.65V433.79M57.5 406.68V434.95M58.5 405.5V435.49M59.5 406.11V433.75M60.5 405.32V434.14M61.5 407.55V436.15M62.5 406.73V436.08M63.5 406.9V435.89M64.5 404.94V435.2M65.5 405.12V438.15M66.5 406.86V435.84M67.5 405.84V435.14M68.5 405.79V437.68M69.5 406.27V436.61M70.5 405V435.63M71.5 406.62V437.19M72.5 406.01V436.16M73.5 406.38V436.64M74.5 405.46V436.23M75.5 406.41V434.97M76.5 405.44V436.97M77.5 406.76V436.16M78.5 406.9V434.99M79.5 406.73V435.24M80.5 406.41V436.96M81.5 406.51V435.63M82.5 403.84V436.05M83.5 406.67V436.65M84.5 405.78V436.13M85.5 406.08V434.47M86.5 405.77V436.64M87.5 404.89V436.94M88.5 405.57V436.87M89.5 406.53V437.62M90.5 407.13V436.36M91.5 405.5V436.78M92.5 405.28V437.59M93.5 407.16V435.71M94.5 405.29V437.74M95.5 407.66V437.73M96.5 406.04V436.78M97.5 405.29V437.84M98.5 406.79V436.85M99.5 407.35V435.12M100.5 404.85V437.14M101.5 407.25V436.33M102.5 405.77V436.41M103.5 407.19V436.15M104.5 405.7V437.36M105.5 404.74V436.55M106.5 406.4V435.3M107.5 406.74V436.49M108.5 407.68V436.73M109.5 407.38V435.27M110.5 406.56V435.57M111.5 405.81V435.62M112.5 405.58V435.39M113.5 405.76V436.35M114.5 405.34V437.02M115.5 405.78V437.89M116.5 403.96V437.19M117.5 406.14V437.02M118.5 405.98V437.14M119.5 408.05V437.34M120.5 406.61V435.62M121.5 405.62V436.69M122.5 406.45V436.32M123.5 405.02V435.87M124.5 405.52V435.55M125.5 404.51V435.49M126.5 407.15V435.73M127.5 406.47V434.77M128.5 405.06V436.52M129.5 405.95V435.98M130.5 406.76V436.11M131.5 406.4V436.34M132.5 406.31V436.72M133.5 405.31V435.41M134.5 405.49V435.89M135.5 406.08V434.39M136.5 406.74V433.78M137.5 405.34V434.06M138.5 405.1V437.54M139.5 406.92V434.17M140.5 405.26V436.47M141.5 406.86V437.48M142.5 406.19V435.54M143.5 406.7V437.63M144.5 407.4V437.85M145.5 406.55V436.95M146.5 406.62V438.37M147.5 405.27V436.62M148.5 405.44V435.27M149.5 406.52V436.52M150.5 407.23V435.56M151.5 407.11V434.7M152.5 407.85V434.73M153.5 406.25V438.32M154.5 406.16V435.46M155.5 406.8V435.98M156.5 406.02V435.34M157.5 405.95V436.15M158.5 405.16V435.77M159.5 406.79V435.6M160.5 405.14V434.8M161.5 406.41V434.6M162.5 404.86V435.27M163.5 406.88V436.3M164.5 405.18V438.09M165.5 406.67V437.07M166.5 404.73V437.84M167.5 405.65V436.5M168.5 406.94V435.93M169.5 405.36V434.69M170.5 406.05V436.02M171.5 405.62V433.87M172.5 404.15V435.72M173.5 406.25V437.65M174.5 406.35V436.35M175.5 405.11V437.15M176.5 406.46V435.64M177.5 405.36V434.64M178.5 405.2V435.54M179.5 406.01V435.62M180.5 405.45V437.23M181.5 407.83V438M182.5 404.76V435.28M183.5 406.59V435.66M184.5 406.79V435.88M185.5 404.42V435.67M186.5 404.61V434.78M187.5 406.45V436.12M188.5 405.61V436.39M189.5 406.31V436.41M190.5 406.91V434.82M191.5 405.7V435.91M192.5 405.15V434.29M193.5 403.82V436.94M194.5 406.16V435.01M195.5 405.26V435.75M196.5 406.25V435.58M197.5 406.19V435.44M198.5 404.89V434.97M199.5 407.38V434.26M200.5 406.87V437.76M201.5 406.68V436.28M202.5 405.05V436.29M203.5 405.66V438.12M204.5 405.5V435.88M205.5 405.56V436.5M206.5 404.94V435.93M207.5 406.14V437.06M208.5 405.93V436.34M209.5 405.99V436.12M210.5 405.25V435.51M211.5 406.63V436.01M212.5 405.7V436.86M213.5 403.32V433.58M214.5 404.94V435.5M215.5 405.36V435.17M216.5 406.13V435.25M217.5 405.07V433.54M218.5 405.06V436.21M219.5 404.69V434.6M220.5 405.7V435.18M221.5 404.76V434.87M222.5 404.59V433.67M223.5 404.43V434.85M224.5 405.42V433.42M225.5 404.5V434.28M226.5 403.54V434.88M227.5 405.33V435.15M228.5 404.22V435.17M229.5 405.02V434.95M230.5 404.98V437.18M231.5 405.6V435.45M232.5 405.42V433.75M233.5 404.08V434.33M234.5 404.36V434.24M235.5 403.41V434.69M236.5 405.74V434.23M237.5 404.7V433.94M238.5 405.41V436.41M239.5 404V434.77M240.5 402.56V434.35M241.5 405.38V434.4M242.5 404.18V434.4M243.5 404.16V435.97M244.5 404.05V435.02M245.5 404.48V435.63M246.5 404.34V431.35M247.5 402.59V434.76M248.5 404.69V435.46M249.5 403.34V436.33M250.5 403.35V434.35M251.5 405.05V432.57M252.5 404.36V434.84M253.5 403.3V433.62M254.5 402.04V432.39M255.5 403.61V433.52M256.5 403.86V435.16M257.5 403.32V435.27M258.5 402.34V434.76M259.5 402.65V432.95M260.5 402.23V436.48M261.5 403.36V432.76M262.5 403.8V433.81M263.5 403.91V432.41M264.5 402.46V435.14M265.5 403.18V434.23M266.5 403.39V434.64M267.5 402.49V433.8M268.5 402.73V433.61M269.5 404.5V433.81M270.5 402.92V431.72M271.5 403.41V434.56M272.5 402.31V434.45M273.5 402.64V433.1M274.5 401.19V433.45M275.5 402.49V433.72M276.5 403.42V434.96M277.5 404.1V433.78M278.5 403.33V433.36M279.5 402.87V432.77M280.5 402.31V431.74M281.5 401.74V432.61M282.5 402.05V433.24M283.5 402.62V432.89M284.5 401.45V433.18M285.5 402.78V433.81M286.5 401.19V433.47M287.5 400.51V433.27M288.5 401.08V433.61M289.5 400.5V433.11M290.5 400.69V432.86M291.5 402.65V433.32M292.5 401.53V431.09M293.5 401.82V434.03M294.5 402.52V431.45M295.5 402.55V433.54M296.5 401.1V432.68M297.5 402.51V433.74M298.5 401.71V432.63M299.5 401.36V431.62M300.5 401.66V433.6M301.5 400.12V432.68M302.5 400.58V432.57M303.5 401.07V432.5M304.5 401.6V433.39M305.5 400.77V433.17M306.5 400.91V432.54M307.5 401.74V430.73M308.5 402.05V431.84M309.5 401.49V432.31M310.5 401.84V433.96M311.5 400.45V432.52M312.5 400.48V432.01M313.5 400.93V433.26M314.5 400.39V431.91M315.5 400.18V431.96M316.5 401.86V432.11M317.5 400.32V430.42M318.5 399.66V432.84M319.5 400.78V432.27M320.5 401.81V431.53M321.5 400.36V430.63M322.5 401.23V431.95M323.5 399.85V433.1M324.5 399.75V431.02M325.5 399.55V430.57M326.5 399.94V432.01M327.5 401.47V429.96M328.5 399.03V429.3M329.5 401.22V431.04M330.5 399.05V430.76M331.5 399.62V431.14M332.5 400.43V430.83M333.5 400.22V431.67M334.5 399.89V431.08M335.5 398.3V430.67M336.5 399.86V430.78M337.5 398.7V431.83M338.5 401.53V432.12M339.5 399.25V432.03M340.5 399.53V431.79M341.5 398.41V427.76M342.5 398.9V430.02M343.5 398.2V430.67M344.5 399.97V431.15M345.5 398.92V429.29M346.5 399.54V432.3M347.5 398.49V431.14M348.5 398.59V430.18M349.5 399.97V430.93M350.5 398.12V430.38M351.5 397.4V429.93M352.5 399.12V431.16M353.5 397.84V430.17M354.5 398.35V429.17M355.5 399.38V429.91M356.5 397.95V430.4M357.5 399.26V429.4M358.5 397.96V431.7M359.5 399.65V429.32M360.5 399.47V432.13M361.5 397.98V431.23M362.5 398.14V429.36M363.5 397.6V430.39M364.5 398.38V431.41M365.5 399.09V430M366.5 396.96V428.96M367.5 398.81V430.23M368.5 396.96V432.07M369.5 397.34V428.59M370.5 396.64V430.67M371.5 399.8V430.17M372.5 398.22V430.07M373.5 398.41V429.84M374.5 397.72V429.95M375.5 399.17V431.34M376.5 396.68V430.93M377.5 398.43V429.38M378.5 400.22V431.97M379.5 398.2V429.15M380.5 398.57V431.15M381.5 399.14V430.7M382.5 398V431.76M383.5 398.72V430.95M384.5 399.52V431.69M385.5 398.95V430.64M386.5 399.14V431.68M387.5 398.61V431.08M388.5 399.19V432.93M389.5 399.03V430.12M390.5 400.2V432.04M391.5 399.67V431.35M392.5 398.94V431.1M393.5 397.23V430.39M394.5 399.8V431.44M395.5 399.88V429.56M396.5 398.59V429.7M397.5 397.78V431.82M398.5 398.51V429.59M399.5 400.21V432.61M400.5 398.67V430.94M401.5 399.2V431.5M402.5 399.79V431.36M403.5 400.64V431.74M404.5 399.7V431.08M405.5 399.68V431.03M406.5 399.37V431.31M407.5 401.16V432.52M408.5 400.76V432.64M409.5 399.88V432.82M410.5 398.89V431.94M411.5 399.42V431.41M412.5 400.56V429.97M413.5 399.57V432.33M414.5 400.91V432.56M415.5 400.53V431.36M416.5 400.53V432.6M417.5 400.86V433.12M418.5 400.79V431.96M419.5 399.75V432.96M420.5 400.23V432.25M421.5 402.41V430.24M422.5 399.62V431.54M423.5 400.25V431.64M424.5 401.53V432.62M425.5 400.6V431.26M426.5 400.13V431.72M427.5 399.76V431.23M428.5 401.3V432.19M429.5 401.74V432.34M430.5 402.09V433.28M431.5 401.06V433.14M432.5 401.9V432.54M433.5 400.29V432.65M434.5 401.3V432.56M435.5 400.67V432.6M436.5 401.4V434.07M437.5 401.91V430.07M438.5 402.21V432.42M439.5 400.61V432.94M440.5 402.46V433.8M441.5 401.12V431.61M442.5 400.73V433.08M443.5 401.46V433.64M444.5 400.47V432.36M445.5 401.7V430.94M446.5 401.97V432.52M447.5 401.63V431.72M448.5 402.27V433.61M449.5 401.63V432.14M450.5 401.94V434.81M451.5 400.83V433.21M452.5 402.06V432.29M453.5 401.4V432.63M454.5 401.77V432.08M455.5 402.1V433.6M456.5 402.38V434.74M457.5 400.95V433.07M458.5 401.07V434.24M459.5 402.13V432.41M460.5 402.8V433.7M461.5 402.75V435.73M462.5 403.23V432.06M463.5 403.6V434.73M464.5 403.01V434.71M465.5 402.64V431.69M466.5 401.88V432.17M467.5 402V432.67M468.5 402.43V434.65M469.5 403.06V433.29M470.5 403.08V433.58M471.5 402.95V434.49M472.5 402.87V433.94M473.5 403.55V434.09M474.5 403.26V433.57M475.5 403.38V435.06M476.5 403.44V433.19M477.5 402.8V435.68M478.5 402.46V433.7M479.5 403.73V433.28M480.5 403.71V434.76M481.5 403.25V434.6M482.5 403.15V432.2M483.5 405.35V434.44M484.5 402.97V432.91M485.5 403.45V433.46M486.5 403.88V435.11M487.5 402.8V433.5M488.5 403.86V434.76M489.5 405.25V434.06M490.5 404.61V436.4M491.5 404.42V434.41M492.5 404.43V433.37M493.5 404.1V433.47M494.5 404.82V433.71M495.5 403.98V434.78M496.5 403.82V434.68M497.5 404.28V435.69M498.5 404.97V434.92M499.5 404.56V434.92M500.5 404.89V435.15M501.5 402.78V434.74M502.5 405.4V435.19M503.5 406.36V435.72M504.5 405.61V435.76M505.5 404.33V434.46M506.5 403.96V433.28M507.5 404.91V434.27M508.5 403.94V435.4M509.5 405.36V432.66M510.5 404.41V434.71M511.5 405.65V435.67M512.5 406.02V434.69M513.5 403.35V434.18M514.5 405.26V437.08M515.5 404.51V436.75M516.5 403.99V435.14M517.5 404.67V436.76M518.5 405.04V436.77M519.5 406.09V434.38M520.5 404.1V438.22M521.5 406.2V434.64M522.5 407.02V435.35M523.5 405.93V434.56M524.5 405.94V435.76M525.5 405.54V434.41M526.5 404.66V435.75M527.5 406.08V436.88M528.5 406.01V436.04M529.5 406.33V435.6M530.5 407.85V437.45M531.5 406.43V435.04M532.5 406.23V436.94M533.5 407.19V435.71M534.5 404.91V436.26M535.5 405.09V436.08M536.5 405.7V436.18M537.5 405.48V436M538.5 406.56V435.27M539.5 405.75V435.48M540.5 407.39V436.49M541.5 407.22V435.94M542.5 406.62V434.89M543.5 405.69V435.34M544.5 406.49V435.35M545.5 406.65V435.99M546.5 405.15V436.22M547.5 406.28V436.14M548.5 406.56V435.39M549.5 406.17V436.06M550.5 407.26V434.67M551.5 406.97V433.16M552.5 405.34V435.99M553.5 406.1V434.39M554.5 405.33V435.09M555.5 406.46V434.83M556.5 405.31V436.67M557.5 406.74V434.83M558.5 406.31V436.31M559.5 406.78V435.55M560.5 405.88V434.8M561.5 404.83V434.46M562.5 407.41V436.49M563.5 405.86V436.42M564.5 407.1V436.8M565.5 406.34V437.86M566.5 406.54V436.3M567.5 407.46V436.31M568.5 406.27V435.9M569.5 407.12V436.13M570.5 404.81V435.67M571.5 406.7V435.13M572.5 405.81V438.01M573.5 405.89V434.16M574.5 406.01V436.27M575.5 406.28V436.46M576.5 407.33V436.17M577.5 404.52V435.05M578.5 406.04V435.82M579.5 405.43V435.55M580.5 406.93V434.94M581.5 405.66V435.96M582.5 406.37V435.6M583.5 405.68V435.46M584.5 406.53V436.69M585.5 406.81V434.95M586.5 405.68V436.45M587.5 406.04V435.39M588.5 404.86V436.43M589.5 406.24V436.07M590.5 406.69V436.24M591.5 405.56V435.02M592.5 406.9V435.23M593.5 404.34V435.14M594.5 404.52V436.17M595.5 404.89V436.74M596.5 405.61V437.07M597.5 406.01V435.5M598.5 405.94V436.08M599.5 405.95V434.38M600.5 406.58V433.78M601.5 405.62V435.13M602.5 404.99V435.33M603.5 405V434.44M604.5 407.69V434.22M605.5 404.12V436.52M606.5 405.86V435.19M607.5 407.17V434.31M608.5 406.39V438.3M609.5 405.34V436.16M610.5 406V435.67M611.5 406.69V436.66M612.5 406.97V435.23M613.5 405.28V437.57M614.5 406.61V434.45M615.5 406.2V434.68M616.5 406.88V435.84M617.5 407.11V435.22M618.5 405.73V437.39M619.5 404.84V434.38M620.5 406.32V435.25M621.5 407.42V436.21M622.5 406.55V436.54M623.5 406.18V436.97M624.5 407.92V436.32M625.5 405.17V438.17M626.5 406.72V435.5M627.5 405.54V436.15M628.5 406.04V436.82M629.5 406.07V435.65M630.5 407.21V435.68M631.5 405.25V435.5M632.5 405.57V435.32M633.5 404.73V434.84M634.5 406.39V435.41M635.5 405.63V434.42M636.5 406.34V436.34M637.5 405.14V434.38M638.5 405.71V438.02M639.5 406.83V437.65M640.5 405.86V437.06M641.5 406.5V435.75M642.5 406.42V435.37M643.5 405.72V437.18M644.5 404.75V436.14M645.5 406.79V436.51M646.5 406.14V435.24M647.5 406.79V437.02M648.5 404.39V435.16M649.5 404.68V436.06M650.5 404.29V434.23M651.5 405.3V435.3M652.5 406.83V436.45M653.5 406.45V435.5M654.5 405.97V435.51M655.5 406.1V436.74M656.5 406.61V435.88M657.5 405.76V437.19M658.5 406.32V433.54M659.5 406.11V436.52M660.5 404.25V436.46M661.5 405.69V434.41M662.5 407.09V434.66M663.5 405.68V436.82M664.5 405.89V434.89M665.5 405.51V435.31M666.5 405.61V436.54M667.5 406.9V435.62M668.5 405.79V436.42M669.5 405.18V435.08M670.5 403.51V436.24M671.5 405.54V437.03M672.5 404.43V436.27M673.5 404.54V433.76M674.5 406.64V436.6M675.5 406.57V436.01M676.5 404.47V435.04M677.5 406.68V437.33M678.5 406.37V434.21M679.5 405.37V437.81M680.5 406.59V435.32M681.5 404.7V437.51M682.5 405.04V435.9M683.5 404.85V434.62M684.5 405.11V436.04M685.5 406.7V436.28M686.5 404.93V436.49M687.5 405.08V437M688.5 405.24V435.05M689.5 406.16V436.44M690.5 405.73V436.68M691.5 406.69V435.68M692.5 405.43V435.01M693.5 404.97V434.99M694.5 405.6V436.69M695.5 406.03V436.74M696.5 405.25V435.12M697.5 406.22V434.61M698.5 407.45V437.18M699.5 405.53V434.4M700.5 406.03V436.1" fill="none" stroke="#0000e6" stroke-width="1"/>
<path d="M37.5 413.9V437.19M38.5 413.24V436.54M39.5 414.55V436.23M40.5 414.33V435.53M41.5 415.46V435.75M42.5 416.04V437.3M43.5 414.33V436.67M44.5 415.18V437.19M45.5 415.19V436.14M46.5 414.1V436.73M47.5 413.86V436.76M48.5 415.58V435.77M49.5 414.21V435.67M50.5 414.44V437.32M51.5 414.26V437.09M52.5 414.37V436.25M53.5 414.04V436.9M54.5 414.98V437.5M55.5 415.34V438.41M56.5 414.2V436.28M57.5 413.5V437.46M58.5 414.5V438.64M59.5 413.42V437.03M60.5 414.02V438.13M61.5 415.32V434.95M62.5 416.08V438.11M63.5 414.72V436.97M64.5 413.72V435.51M65.5 415V437.59M66.5 412.9V437.8M67.5 413.98V437.92M68.5 415.52V437.92M69.5 414.98V436.95M70.5 413.5V436.39M71.5 413.3V436.62M72.5 415.06V436.95M73.5 414.43V437.29M74.5 414.05V436.6M75.5 414.75V437.01M76.5 414.06V437.66M77.5 413.12V437.23M78.5 415.02V438.78M79.5 414.01V438.67M80.5 413.76V436.08M81.5 413.53V436.53M82.5 414.63V435.95M83.5 413.9V436.06M84.5 414.9V437.41M85.5 414.27V436.2M86.5 415.21V436.15M87.5 414.19V436.76M88.5 414.01V437.61M89.5 413.09V436.7M90.5 413.7V436.7M91.5 414.96V437.7M92.5 416.59V437.35M93.5 413.59V437.33M94.5 413.74V437.72M95.5 414.7V436.18M96.5 414.79V437.15M97.5 413.99V436.48M98.5 414.52V437.78M99.5 413.34V437.62M100.5 414.25V436.16M101.5 415.09V438.03M102.5 415.6V436.06M103.5 414.34V437.9M104.5 414.28V437.14M105.5 414.78V436.29M106.5 415.23V436.1M107.5 414.8V436.74M108.5 413.94V436.96M109.5 414.71V436.42M110.5 415.14V437.42M111.5 413.97V435.87M112.5 413.53V436.97M113.5 414.82V436.98M114.5 414.72V435.5M115.5 415.14V437.22M116.5 414.52V435.98M117.5 414.01V435.01M118.5 414.16V436.49M119.5 413.75V436.8M120.5 413.8V437.69M121.5 414.07V436.59M122.5 414.13V438.14M123.5 415.24V438.11M124.5 413.61V437.84M125.5 414.43V438.02M126.5 414.05V437.25M127.5 415.5V436.54M128.5 414.65V437.49M129.5 414.2V437.74M130.5 415.03V437.16M131.5 414.51V436.78M132.5 414.13V435.74M133.5 415.53V437.51M134.5 414.96V437.25M135.5 415.67V435.95M136.5 415.27V437.05M137.5 415.01V437.55M138.5 414.56V436.89M139.5 413.71V437.59M140.5 414.96V437.57M141.5 414.52V435.81M142.5 414.94V436.74M143.5 414.46V437.36M144.5 413.99V437.7M145.5 413.77V438.09M146.5 414.96V435.46M147.5 415.37V436.92M148.5 414.27V437.54M149.5 414.79V437.94M150.5 415.43V438.31M151.5 413.89V436.24M152.5 414.23V436.68M153.5 413.69V436.14M154.5 415.29V437.62M155.5 414.65V435.93M156.5 414.15V437.91M157.5 413.32V437.72M158.5 414.35V437.36M159.5 415.16V435.26M160.5 414.27V436.44M161.5 414.18V437.57M162.5 414.92V435.86M163.5 413.61V436.79M164.5 414.51V436.89M165.5 414.89V437.68M166.5 413.93V437.2M167.5 413.9V437.19M168.5 414.64V436.63M169.5 414.4V436.98M170.5 414.31V436.87M171.5 414.62V437.55M172.5 414.63V436.83M173.5 413.83V437.79M174.5 414.01V435.63M175.5 414.79V437.92M176.5 415.25V436.84M177.5 415.41V437.87M178.5 413.89V437.04M179.5 415.23V437.65M180.5 415V438.16M181.5 414.45V436.54M182.5 414.81V437.04M183.5 415.05V436.84M184.5 415.72V437.14M185.5 413.74V435.69M186.5 414.89V436.84M187.5 414.38V436.78M188.5 414.33V436.35M189.5 415.27V436.82M190.5 415.04V435.76M191.5 413.77V438.08M192.5 414.28V437.33M193.5 414.63V438.46M194.5 413.5V436.28M195.5 415.08V436.05M196.5 414.43V437.2M197.5 414.59V435.66M198.5 414.71V437.15M199.5 415.73V436.42M200.5 414.5V436.71M201.5 414.23V437.17M202.5 415.68V437.01M203.5 414.11V438.43M204.5 414.02V437.42M205.5 413.34V435.86M206.5 414.97V437.62M207.5 414.33V435.75M208.5 414.39V436.83M209.5 414.1V435.74M210.5 413.82V436.03M211.5 413.29V437.69M212.5 413.21V436.17M213.5 413.97V436.06M214.5 413.68V436.09M215.5 414.65V436.24M216.5 412.91V437.59M217.5 413.02V435.48M218.5 412.58V435.4M219.5 414.16V436.79M220.5 412.27V435.03M221.5 413.58V435.97M222.5 413.97V437.11M223.5 412.79V436.18M224.5 413.32V435.76M225.5 411.26V435.54M226.5 412.39V435.33M227.5 411.43V435.55M228.5 412.62V436.09M229.5 412.43V436.92M230.5 411.81V436.66M231.5 412.92V435.41M232.5 412.43V435.24M233.5 411.75V436.33M234.5 411.68V434.3M235.5 410.93V435.35M236.5 411.75V435.4M237.5 413.26V434.74M238.5 411.23V434.79M239.5 411.93V435.82M240.5 411.18V434.19M241.5 412.04V434.74M242.5 411.71V434.91M243.5 411.16V435.45M244.5 410.01V434.26M245.5 410.81V436.16M246.5 411.92V435.02M247.5 410.84V435.02M248.5 411.37V434.89M249.5 410.52V434.61M250.5 409.49V434.33M251.5 410.99V435.97M252.5 410.84V435.18M253.5 410.14V434.9M254.5 410.21V435.73M255.5 410.59V434.34M256.5 409.9V435.36M257.5 410.47V434.84M258.5 410.01V434.08M259.5 408.44V435.34M260.5 409.89V433.52M261.5 409.5V435.18M262.5 409.26V433.93M263.5 410.04V434.91M264.5 409.34V435.63M265.5 409.97V434.95M266.5 410.28V433.99M267.5 409.54V434.4M268.5 408.3V434.09M269.5 408.78V433.42M270.5 409.84V433.43M271.5 408.95V434.3M272.5 408.49V434.65M273.5 408.91V432.79M274.5 409.24V434.09M275.5 409V434.5M276.5 409.19V434.15M277.5 408.09V433.24M278.5 408.39V434.8M279.5 408.33V432.99M280.5 408.41V434.42M281.5 406.9V435.13M282.5 408.11V432.22M283.5 407.26V433.99M284.5 409.07V433.99M285.5 409.11V433.88M286.5 409.12V433.06M287.5 408.44V433.38M288.5 407.46V432.49M289.5 408.39V433.65M290.5 407.5V433.93M291.5 407.99V432.95M292.5 406.86V432.7M293.5 407V433.02M294.5 407.65V433.34M295.5 408.48V433.36M296.5 407.16V433.19M297.5 408.65V433.28M298.5 408.92V432.16M299.5 406.05V431.01M300.5 406.84V433.6M301.5 406.12V434.19M302.5 406.61V431.92M303.5 406.26V432.47M304.5 406.5V433.19M305.5 407.14V433.66M306.5 407.04V433.38M307.5 406.49V433.84M308.5 406.24V432.75M309.5 406.24V433.08M310.5 406.16V433.04M311.5 406.4V432.34M312.5 405.92V433.58M313.5 406.19V433.09M314.5 404.86V433.33M315.5 406.23V432.21M316.5 406.82V433.29M317.5 405.66V431.62M318.5 404.47V432.71M319.5 406.31V430.31M320.5 405.07V431.53M321.5 403.15V432.86M322.5 404.99V431.89M323.5 405.48V432.34M324.5 405.25V430.9M325.5 405.76V433.34M326.5 405.25V432.55M327.5 404.83V432.03M328.5 403.3V432.33M329.5 403.82V432.23M330.5 404.63V433.04M331.5 404.9V432.06M332.5 403.64V430.7M333.5 403.85V431.61M334.5 404.52V432.78M335.5 402.8V432.18M336.5 402.69V431.37M337.5 403.8V432.13M338.5 404.06V431.71M339.5 403.47V432.05M340.5 402.14V430.3M341.5 403.66V430.8M342.5 402.65V431.98M343.5 403.94V431.25M344.5 403.34V431.66M345.5 403.52V432.87M346.5 403.7V431.06M347.5 402.81V431.45M348.5 403.67V430.79M349.5 403.88V430.7M350.5 403.22V431.09M351.5 403.79V429.97M352.5 402.35V429.42M353.5 403.34V432.1M354.5 402.82V430.91M355.5 401.87V431.83M356.5 402.42V431.01M357.5 402.03V430.99M358.5 401.93V431.36M359.5 402.3V431.35M360.5 402.89V429.81M361.5 401.86V431.66M362.5 402.09V429.92M363.5 400.91V430.8M364.5 401.92V432.59M365.5 402.57V430.62M366.5 402.25V431.82M367.5 401.94V430.21M368.5 401.17V430.92M369.5 400.86V430.48M370.5 401.54V430.81M371.5 400.76V429.85M372.5 400.91V429.84M373.5 402.5V430.86M374.5 401.29V429.42M375.5 403.25V430.02M376.5 401.09V431.22M377.5 402.46V430.27M378.5 401.43V430.1M379.5 402.44V429.97M380.5 401.67V430.99M381.5 402.5V430.63M382.5 402.44V431.07M383.5 402.32V430.84M384.5 403.06V432.48M385.5 403.83V430.73M386.5 402.45V429.58M387.5 403.56V431.24M388.5 403.08V431.19M389.5 403.08V431.35M390.5 404.7V430.01M391.5 401.75V432.19M392.5 402.86V431.32M393.5 402.16V431.35M394.5 403.27V430.19M395.5 403.41V431.83M396.5 406.29V431.45M397.5 403.97V432.59M398.5 405.05V431.25M399.5 404.78V430.65M400.5 403.66V431.76M401.5 404.37V430.98M402.5 405.28V432.06M403.5 404.32V430.93M404.5 404.42V431.71M405.5 404.7V431.68M406.5 403.39V431.87M407.5 403.95V431.53M408.5 404.82V431.34M409.5 405.05V431.96M410.5 404.11V431.6M411.5 404.6V432.21M412.5 404.82V431.92M413.5 404.88V430.42M414.5 405.54V432.16M415.5 405.21V433.33M416.5 405.33V432.52M417.5 404.31V432.79M418.5 404.64V432.72M419.5 405.67V432.04M420.5 404.42V431.41M421.5 405.8V433.11M422.5 405.23V433.34M423.5 405.2V433M424.5 406.29V432.93M425.5 405.45V432.94M426.5 405.4V432.66M427.5 405.61V432.93M428.5 406.2V432.76M429.5 408.14V433.05M430.5 404.84V432.1M431.5 406.38V432.39M432.5 406.3V433.35M433.5 407.21V432.69M434.5 406.37V431.12M435.5 404.99V433.13M436.5 407.7V431.3M437.5 406.1V434.59M438.5 406.9V433.7M439.5 406.06V433.71M440.5 406.33V432.71M441.5 406.83V432.4M442.5 407.85V433.14M443.5 407.91V433.36M444.5 406.99V432.79M445.5 407.83V433.55M446.5 407.3V433.99M447.5 407.72V433.96M448.5 407.83V432.74M449.5 408.23V431.92M450.5 407.45V433.62M451.5 407.86V433.15M452.5 408.18V434.04M453.5 408.17V435M454.5 407.63V435.04M455.5 409.46V434.04M456.5 408.02V434.71M457.5 408.95V435.16M458.5 408.64V433.97M459.5 409.43V434.19M460.5 407.14V434.67M461.5 410.16V434.03M462.5 408.67V433.71M463.5 408.04V433.56M464.5 409.06V434.18M465.5 410.62V433.74M466.5 409.48V434.87M467.5 408.35V434.04M468.5 408.96V435.46M469.5 410.29V435.3M470.5 408.46V433.46M471.5 409.39V435.28M472.5 409.39V434.18M473.5 411.18V435.58M474.5 409.55V434.96M475.5 410.75V434.58M476.5 409.44V435.17M477.5 409.43V434.27M478.5 410.77V434.98M479.5 410.58V435.07M480.5 409.02V434.7M481.5 410.75V435.15M482.5 410.83V434.13M483.5 410.03V435.36M484.5 410.69V434.05M485.5 410.8V435.48M486.5 410.36V435.41M487.5 410.37V435.63M488.5 410.38V434.7M489.5 410.74V437.48M490.5 410.08V435.04M491.5 411.06V435.36M492.5 410.12V434.71M493.5 411.29V436.42M494.5 411.26V435.01M495.5 410.68V436.17M496.5 412.07V434.73M497.5 412.9V435.73M498.5 412.56V435.25M499.5 410.76V436.28M500.5 412.68V435.39M501.5 412.02V434.99M502.5 411.91V436.03M503.5 411.61V434.82M504.5 412.1V435.04M505.5 413.15V436.39M506.5 412.64V434.43M507.5 412.05V436.46M508.5 411.95V435.62M509.5 412.21V435.27M510.5 412.98V436.19M511.5 413.95V436.53M512.5 412V435.64M513.5 412.81V435.99M514.5 412.62V436.77M515.5 412.44V436.78M516.5 413.32V436.21M517.5 413.51V435.7M518.5 412.22V435.61M519.5 412.56V435.91M520.5 414.19V436.92M521.5 413.66V436.88M522.5 413.88V436.72M523.5 413.25V437.58M524.5 413.41V436.34M525.5 414.07V436.32M526.5 413.48V436.35M527.5 413.14V438.13M528.5 413.99V435.17M529.5 414.69V436.98M530.5 413.43V437.14M531.5 414.95V436.89M532.5 414.79V438.65M533.5 413.78V437.81M534.5 414.46V437.55M535.5 414.45V436.3M536.5 414.92V437.35M537.5 414.94V436.7M538.5 413.57V437.01M539.5 413.54V437.13M540.5 415.19V436.61M541.5 414.55V437.46M542.5 414.77V438.21M543.5 414.71V437.76M544.5 415.54V437.14M545.5 413.64V435.52M546.5 415.23V437.8M547.5 413.91V437.79M548.5 414.98V436.84M549.5 415.41V436.62M550.5 413.52V437.48M551.5 414.76V436.38M552.5 414.28V437.59M553.5 414.27V436.17M554.5 414.51V436.29M555.5 413.75V437M556.5 413.81V435.89M557.5 414.93V436.99M558.5 415.06V437.39M559.5 414.08V436M560.5 413.47V437.69M561.5 416.08V436.57M562.5 415.24V437.4M563.5 414.73V437.15M564.5 413.76V436.65M565.5 414.07V436.6M566.5 414.64V435.71M567.5 413.81V436.47M568.5 415.58V436.41M569.5 414.57V438.23M570.5 414.75V437.76M571.5 413.76V435.96M572.5 413.85V437.59M573.5 413.93V437.16M574.5 414.67V436.71M575.5 414.29V437.34M576.5 414.28V437.59M577.5 414.69V436.57M578.5 414.63V436.79M579.5 415.5V437.12M580.5 414.34V436.26M581.5 413.78V437.13M582.5 414.47V436.93M583.5 415.49V436.49M584.5 414.09V436.36M585.5 414.51V437.22M586.5 414.23V437.65M587.5 414.76V437.24M588.5 414.65V436.36M589.5 413.92V437.56M590.5 414.32V437.12M591.5 415.13V437.44M592.5 415.23V437.87M593.5 415.11V436.32M594.5 415.07V436.89M595.5 414.25V436.55M596.5 414.23V436.34M597.5 415.12V438.5M598.5 413.67V437.7M599.5 414.44V435.68M600.5 413.2V437.32M601.5 414.22V436.58M602.5 413.99V437.86M603.5 413.65V437.06M604.5 414.88V436.87M605.5 413.97V437.1M606.5 414.22V437.29M607.5 414.3V437.02M608.5 413.97V436.83M609.5 415.46V436.9M610.5 414.14V437.38M611.5 414.61V436.15M612.5 413.58V437M613.5 414.15V436.91M614.5 414.25V436.64M615.5 414.27V437.55M616.5 414.08V436.03M617.5 414.58V436.73M618.5 415.55V436.36M619.5 414.39V437.41M620.5 414.38V436.65M621.5 414.21V437.04M622.5 416.22V437.29M623.5 415.59V435.81M624.5 414.86V437.34M625.5 414.96V436.44M626.5 413.99V436.81M627.5 414.37V436.92M628.5 414.62V437.6M629.5 414.56V437.55M630.5 413.89V438.32M631.5 413.94V437.13M632.5 414.83V436.64M633.5 414.69V436.62M634.5 413.03V437.49M635.5 414.54V438.2M636.5 415.35V437.25M637.5 414.03V436.57M638.5 414.64V437.2M639.5 413.48V437.19M640.5 415.05V437.02M641.5 413.71V436.44M642.5 413.62V435.1M643.5 414.26V436.6M644.5 416.11V437.79M645.5 414.06V437.16M646.5 413.61V435.35M647.5 414.8V437M648.5 414.64V435.62M649.5 415.62V438.49M650.5 413.61V437.14M651.5 413.38V436.1M652.5 414.26V437.6M653.5 414.74V436.42M654.5 414.72V437.42M655.5 415.22V437.02M656.5 413.45V436.12M657.5 413.91V437.5M658.5 414.39V436M659.5 415.06V438M660.5 414.81V437.05M661.5 414.19V436.23M662.5 413.78V435.65M663.5 415.08V438.21M664.5 415.13V438.08M665.5 416.34V436.06M666.5 414.36V438.23M667.5 415.59V437.12M668.5 413.65V436.83M669.5 414.11V436.94M670.5 414.01V436.8M671.5 414.16V438.07M672.5 413.88V437.11M673.5 414.11V435.62M674.5 414.44V438.56M675.5 414.17V437.66M676.5 414.93V436.19M677.5 414.42V436.73M678.5 414.48V436.32M679.5 415.49V437.03M680.5 414.7V437.29M681.5 414.59V437.18M682.5 414.47V436.55M683.5 414.52V436.4M684.5 414.87V437.63M685.5 413.93V436.92M686.5 415.26V438.68M687.5 415.56V436.4M688.5 415.27V437.59M689.5 414.14V437.04M690.5 413.39V436.43M691.5 414.18V438.02M692.5 414.58V437.09M693.5 415.05V436.33M694.5 414.35V436.76M695.5 414.27V437.76M696.5 415.52V436.08M697.5 414.02V438.03M698.5 415.21V437.51M699.5 415.1V436.79M700.5 413.57V438.01" fill="none" stroke="#008000" stroke-width="1"/>
<path d="M37.5 437.19V441.28M38.5 436.54V437.94M39.5 436.23V436.63M40.5 435.53V439.84M41.5 435.75V439.24M42.5 437.3V439.47M43.5 436.67V437.16M44.5 437.19V437.69M45.5 436.14V437.1M46.5 436.73V440.23M47.5 436.76V438.87M48.5 435.77V435.96M49.5 435.67V435.91M50.5 437.32V440.62M51.5 437.09V438.42M52.5 436.25V436.38M53.5 436.9V437.54M54.5 437.5V438.51M55.5 438.41V438.67M56.5 436.28V442.14M57.5 437.46V437.48M58.5 438.64V445.31M59.5 437.03V438.79M60.5 438.13V438.6M61.5 434.95V438.3M62.5 438.11V438.39M63.5 436.97V438.62M64.5 435.51V438.7M65.5 437.59V439.34M66.5 437.8V438.99M67.5 437.92V442.26M68.5 437.92V441.31M69.5 436.95V438.64M70.5 436.39V438.01M71.5 436.62V440.01M72.5 436.95V437.02M73.5 437.29V438.19M74.5 436.6V438.12M75.5 437.01V437.7M76.5 437.66V444.28M77.5 437.23V440.74M78.5 438.78V441.46M79.5 438.67V440.25M80.5 436.08V437.42M81.5 436.53V440.36M82.5 435.95V438.12M83.5 436.06V438.27M84.5 437.41V438.14M85.5 436.2V438.74M86.5 436.15V441.45M87.5 436.76V441.13M88.5 437.61V444.98M89.5 436.7V441.57M90.5 436.7V438.43M91.5 437.7V439.84M92.5 437.35V438.7M93.5 437.33V440.88M94.5 437.72V440.73M95.5 436.18V437.54M96.5 437.15V441.3M97.5 436.48V438.07M98.5 437.78V438.15M99.5 437.62V442.96M100.5 436.16V439.04M101.5 438.03V439.06M102.5 436.06V437.73M103.5 437.9V442.52M104.5 437.14V440.99M105.5 436.29V438.07M106.5 436.1V436.8M107.5 436.74V437.93M108.5 436.96V439.09M109.5 436.42V438.91M110.5 437.42V441.83M111.5 435.87V439.49M112.5 436.97V438.22M113.5 436.98V441.1M114.5 435.5V436.97M115.5 437.22V437.82M116.5 435.98V438.87M117.5 435.01V435.36M118.5 436.49V436.69M119.5 436.8V437.79M120.5 437.69V439.44M121.5 436.59V440.35M122.5 438.14V441.33M123.5 438.11V440.43M124.5 437.84V439.36M125.5 438.02V439.23M126.5 437.25V439.27M127.5 436.54V438.1M128.5 437.49V438.82M129.5 437.74V439.53M130.5 437.16V438.65M131.5 436.78V438.35M132.5 435.74V436.61M133.5 437.51V439.5M134.5 437.25V440.64M135.5 435.95V440.61M136.5 437.05V439.7M137.5 437.55V439.61M138.5 436.89V438.99M139.5 437.59V438.62M140.5 437.57V439.97M141.5 435.81V438.32M142.5 436.74V443.33M143.5 437.36V440.5M144.5 437.7V442.42M145.5 438.09V441.13M146.5 435.46V437.65M147.5 436.92V437.69M148.5 437.54V439.38M149.5 437.94V439.33M150.5 438.31V438.53M151.5 436.24V439.5M152.5 436.68V437.65M153.5 436.14V439.48M154.5 437.62V444.35M155.5 435.93V436.39M156.5 437.91V444.07M157.5 437.72V438.8M158.5 437.36V440.65M159.5 435.26V435.48M160.5 436.44V436.67M161.5 437.57V440.51M162.5 435.86V438.62M163.5 436.79V437.42M164.5 436.89V437.36M165.5 437.68V443.93M166.5 437.2V439.54M167.5 437.19V439.18M168.5 436.63V436.65M169.5 436.98V437.69M170.5 436.87V439.33M171.5 437.55V437.67M172.5 436.83V439.33M173.5 437.79V444.29M174.5 435.63V436.75M175.5 437.92V438.6M176.5 436.84V438.82M177.5 437.87V441.89M178.5 437.04V438.31M179.5 437.65V438.67M180.5 438.16V443.41M181.5 436.54V438.64M182.5 437.04V445.58M183.5 436.84V442.83M184.5 437.14V441.98M185.5 435.69V437.5M186.5 436.84V437.51M187.5 436.78V444.8M188.5 436.35V439.31M189.5 436.82V440.09M190.5 435.76V438.09M191.5 438.08V441.08M192.5 437.33V441.53M193.5 438.46V438.89M194.5 436.28V442.18M195.5 436.05V439.86M196.5 437.2V437.6M197.5 435.66V436.58M198.5 437.15V437.64M199.5 436.42V438.95M200.5 436.71V440.29M201.5 437.17V441.75M202.5 437.01V444.21M203.5 438.43V439.12M204.5 437.42V441.36M205.5 435.86V440.32M206.5 437.62V441.25M207.5 435.75V437.25M208.5 436.83V438.06M209.5 435.74V439.56M210.5 436.03V438.55M211.5 437.69V438.82M212.5 436.17V440.94M213.5 436.06V437.7M214.5 436.09V439.6M215.5 436.24V437.53M216.5 437.59V441.04M217.5 435.48V437.58M218.5 435.4V438.5M219.5 436.79V441.55M220.5 435.03V436.71M221.5 435.97V437.1M222.5 437.11V443.26M223.5 436.18V438.69M224.5 435.76V437.95M225.5 435.54V436.77M226.5 435.33V444.19M227.5 435.55V443.07M228.5 436.09V438.59M229.5 436.92V438.91M230.5 436.66V437.89M231.5 435.41V436.02M232.5 435.24V436.22M233.5 436.33V439.24M234.5 434.3V435.08M235.5 435.35V437.51M236.5 435.4V436.04M237.5 434.74V435.78M238.5 434.79V437.16M239.5 435.82V437.6M240.5 434.19V436.21M241.5 434.74V439.3M242.5 434.91V437.7M243.5 435.45V436.56M244.5 434.26V436.95M245.5 436.16V439.35M246.5 435.02V440.51M247.5 435.02V437.51M248.5 434.89V437.93M249.5 434.61V438.19M250.5 434.33V439.87M251.5 435.97V437.65M252.5 435.18V435.43M253.5 434.9V436.01M254.5 435.73V443.79M255.5 434.34V436.03M256.5 435.36V438.42M257.5 434.84V436.24M258.5 434.08V437.71M259.5 435.34V441.44M260.5 433.52V434.69M261.5 435.18V435.42M262.5 433.93V436.41M263.5 434.91V435.36M264.5 435.63V437.9M265.5 434.95V438.88M266.5 433.99V441.61M267.5 434.4V435.24M268.5 434.09V435.24M269.5 433.42V434.32M270.5 433.43V437.46M271.5 434.3V435.35M272.5 434.65V439.48M273.5 432.79V433.05M274.5 434.09V435.9M275.5 434.5V436.62M276.5 434.15V440.12M277.5 433.24V433.34M278.5 434.8V436.33M279.5 432.99V439.42M280.5 434.42V437.11M281.5 435.13V437.43M282.5 432.22V437.14M283.5 433.99V436.1M284.5 433.99V438.21M285.5 433.88V436.41M286.5 433.06V434.47M287.5 433.38V434.21M288.5 432.49V433.8M289.5 433.65V435.55M290.5 433.93V435.56M291.5 432.95V433.93M292.5 432.7V435.44M293.5 433.02V433.32M294.5 433.34V434.25M295.5 433.36V433.64M296.5 433.19V433.52M297.5 433.28V433.74M298.5 432.16V436.54M299.5 431.01V436.18M300.5 433.6V436.36M301.5 434.19V435.75M302.5 431.92V436.84M303.5 432.47V434.54M304.5 433.19V437.79M305.5 433.66V435.92M306.5 433.38V434.65M307.5 433.84V438.31M308.5 432.75V436.87M309.5 433.08V436.05M310.5 433.04V434.59M311.5 432.34V435.33M312.5 433.58V436.81M313.5 433.09V440.93M314.5 433.33V435.43M315.5 432.21V434.23M316.5 433.29V433.49M317.5 431.62V432.89M318.5 432.71V435.42M319.5 430.31V433.5M320.5 431.53V434.11M321.5 432.86V440.03M322.5 431.89V432.52M323.5 432.34V434.57M324.5 430.9V431.6M325.5 433.34V436.13M326.5 432.55V435.13M327.5 432.03V434.26M328.5 432.33V435.74M329.5 432.23V434.93M330.5 433.04V433.19M331.5 432.06V434.83M332.5 430.7V432.49M333.5 431.61V434.98M334.5 432.78V435.04M335.5 432.18V436.43M336.5 431.37V432.58M337.5 432.13V434.46M338.5 431.71V432.87M339.5 432.05V433.72M340.5 430.3V433.61M341.5 430.8V432.36M342.5 431.98V432.36M343.5 431.25V433.13M344.5 431.66V431.73M345.5 432.87V435.65M346.5 431.06V431.79M347.5 431.45V433.19M348.5 430.79V434.24M349.5 430.7V433.91M350.5 431.09V433.61M351.5 429.97V432.78M352.5 429.42V430.78M353.5 432.1V433.33M354.5 430.91V432.89M355.5 431.83V434.93M356.5 431.01V431.14M357.5 430.99V433.02M358.5 431.36V432.49M359.5 431.35V434.01M360.5 429.81V430.76M361.5 431.66V434.99M362.5 429.92V431.04M363.5 430.8V435.12M364.5 432.59V433.18M365.5 430.62V432.13M366.5 431.82V436.58M367.5 430.21V430.23M368.5 430.92V430.99M369.5 430.48V431.95M370.5 430.81V432.91M371.5 429.85V431.16M372.5 429.84V431.98M373.5 430.86V430.93M374.5 429.42V431.32M375.5 430.02V433.35M376.5 431.22V434M377.5 430.27V430.37M378.5 430.1V431.71M379.5 429.97V433.27M380.5 430.99V437.75M381.5 430.63V435.7M382.5 431.07V434.73M383.5 430.84V434.22M384.5 432.48V432.78M385.5 430.73V436.37M386.5 429.58V434.71M387.5 431.24V434.52M388.5 431.19V434.49M389.5 431.35V431.86M390.5 430.01V431.26M391.5 432.19V432.2M392.5 431.32V433.6M393.5 431.35V431.74M394.5 430.19V433.94M395.5 431.83V436.02M396.5 431.45V431.88M397.5 432.59V437.46M398.5 431.25V437.75M399.5 430.65V432.01M400.5 431.76V432.58M401.5 430.98V436.59M402.5 432.06V433.55M403.5 430.93V431.82M404.5 431.71V433.17M405.5 431.68V435.83M406.5 431.87V439.94M407.5 431.53V434.76M408.5 431.34V431.75M409.5 431.96V435.03M410.5 431.6V432.81M411.5 432.21V432.53M412.5 431.92V434.4M413.5 430.42V432.32M414.5 432.16V432.35M415.5 433.33V433.37M416.5 432.52V437.2M417.5 432.79V433.52M418.5 432.72V433.83M419.5 432.04V435.93M420.5 431.41V434.48M421.5 433.11V433.67M422.5 433.34V438.1M423.5 433V433.73M424.5 432.93V435M425.5 432.94V435.32M426.5 432.66V441.47M427.5 432.93V436.05M428.5 432.76V436.68M429.5 433.05V433.17M430.5 432.1V432.27M431.5 432.39V433.06M432.5 433.35V434.23M433.5 432.69V433.44M434.5 431.12V436.74M435.5 433.13V434.46M436.5 431.3V431.54M437.5 434.59V436.82M438.5 433.7V433.77M439.5 433.71V443.57M440.5 432.71V433.73M441.5 432.4V433.26M442.5 433.14V437.41M443.5 433.36V435.22M444.5 432.79V434.13M445.5 433.55V434.81M446.5 433.99V434.48M447.5 433.96V435.84M448.5 432.74V434.25M449.5 431.92V433.62M450.5 433.62V433.85M451.5 433.15V433.45M452.5 434.04V434.96M453.5 435V435.01M454.5 435.04V436.72M455.5 434.04V435.75M456.5 434.71V437.93M457.5 435.16V437.62M458.5 433.97V435.08M459.5 434.19V434.58M460.5 434.67V436.84M461.5 434.03V435.44M462.5 433.71V434.8M463.5 433.56V433.87M464.5 434.18V434.54M465.5 433.74V434.17M466.5 434.87V436.9M467.5 434.04V437.6M468.5 435.46V437.74M469.5 435.3V440.18M470.5 433.46V435.86M471.5 435.28V440.86M472.5 434.18V434.74M473.5 435.58V436.95M474.5 434.96V441.52M475.5 434.58V437.07M476.5 435.17V437.77M477.5 434.27V436.86M478.5 434.98V436.52M479.5 435.07V440.63M480.5 434.7V437.32M481.5 435.15V437.83M482.5 434.13V438.19M483.5 435.36V436.99M484.5 434.05V437.94M485.5 435.48V436.12M486.5 435.41V436.69M487.5 435.63V437.08M488.5 434.7V444.6M489.5 437.48V438.29M490.5 435.04V435.38M491.5 435.36V438.81M492.5 434.71V435.82M493.5 436.42V436.48M494.5 435.01V436.83M495.5 436.17V436.29M496.5 434.73V437.48M497.5 435.73V437.11M498.5 435.25V435.48M499.5 436.28V437.66M500.5 435.39V436.03M501.5 434.99V435.21M502.5 436.03V437.2M503.5 434.82V437.16M504.5 435.04V436.76M505.5 436.39V437.91M506.5 434.43V440.54M507.5 436.46V437.78M508.5 435.62V438.65M509.5 435.27V435.79M510.5 436.19V436.38M511.5 436.53V437.88M512.5 435.64V437.58M513.5 435.99V437.61M514.5 436.77V441.8M515.5 436.78V437.35M516.5 436.21V436.64M517.5 435.7V438.09M518.5 435.61V440.2M519.5 435.91V438.62M520.5 436.92V439.82M521.5 436.88V442.19M522.5 436.72V444.82M523.5 437.58V437.61M524.5 436.34V440.16M525.5 436.32V436.77M526.5 436.35V438.81M527.5 438.13V440.93M528.5 435.17V435.92M529.5 436.98V436.99M530.5 437.14V438.83M531.5 436.89V437.38M532.5 438.65V439.86M533.5 437.81V439.83M534.5 437.55V443.35M535.5 436.3V438.72M536.5 437.35V440.83M537.5 436.7V437.6M538.5 437.01V441.08M539.5 437.13V438.07M540.5 436.61V438.15M541.5 437.46V437.9M542.5 438.21V443.14M543.5 437.76V437.9M544.5 437.14V438.3M545.5 435.52V438.84M546.5 437.8V438.38M547.5 437.79V440.95M548.5 436.84V437.56M549.5 436.62V437.99M550.5 437.48V440.09M551.5 436.38V438.33M552.5 437.59V439.49M553.5 436.17V441.34M554.5 436.29V441.03M555.5 437V442.56M556.5 435.89V439.84M557.5 436.99V437.93M558.5 437.39V439.38M559.5 436V437.04M560.5 437.69V442.01M561.5 436.57V436.72M562.5 437.4V438.81M563.5 437.15V438.16M564.5 436.65V437.45M565.5 436.6V440.21M566.5 435.71V437.31M567.5 436.47V439.23M568.5 436.41V439.33M569.5 438.23V442.49M570.5 437.76V438.95M571.5 435.96V436.29M572.5 437.59V439.08M573.5 437.16V439.74M574.5 436.71V438.57M575.5 437.34V440.79M576.5 437.59V437.94M577.5 436.57V439.66M578.5 436.79V437.56M579.5 437.12V437.81M580.5 436.26V438.49M581.5 437.13V438.32M582.5 436.93V442.12M583.5 436.49V437.44M584.5 436.36V438.22M585.5 437.22V441.64M586.5 437.65V439.84M587.5 437.24V437.29M588.5 436.36V442.65M589.5 437.56V438.6M590.5 437.12V439.52M591.5 437.44V437.69M592.5 437.87V438.33M593.5 436.32V440.86M594.5 436.89V436.93M595.5 436.55V441.45M596.5 436.34V441.66M597.5 438.5V440.3M598.5 437.7V440.01M599.5 435.68V436.92M600.5 437.32V437.98M601.5 436.58V437.31M602.5 437.86V440.86M603.5 437.06V439.72M604.5 436.87V440.66M605.5 437.1V437.68M606.5 437.29V438.92M607.5 437.02V438.97M608.5 436.83V437.02M609.5 436.9V438.49M610.5 437.38V438.5M611.5 436.15V438.29M612.5 437V440.54M613.5 436.91V441.72M614.5 436.64V438.29M615.5 437.55V439.7M616.5 436.03V437.46M617.5 436.73V440.16M618.5 436.36V441.42M619.5 437.41V438.36M620.5 436.65V440.95M621.5 437.04V438.81M622.5 437.29V438.42M623.5 435.81V437.06M624.5 437.34V442.87M625.5 436.44V437.43M626.5 436.81V439.45M627.5 436.92V437.82M628.5 437.6V444.49M629.5 437.55V437.76M630.5 438.32V438.45M631.5 437.13V439.96M632.5 436.64V439.48M633.5 436.62V437.76M634.5 437.49V439.2M635.5 438.2V439.2M636.5 437.25V439.24M637.5 436.57V437.1M638.5 437.2V440.32M639.5 437.19V439.15M640.5 437.02V441.65M641.5 436.44V440.06M642.5 435.1V437.18M643.5 436.6V438.17M644.5 437.79V441.62M645.5 437.16V442.71M646.5 435.35V438.66M647.5 437V440.34M648.5 435.62V436.8M649.5 438.49V439.22M650.5 437.14V439.45M651.5 436.1V437.07M652.5 437.6V442.41M653.5 436.42V441.77M654.5 437.42V439.04M655.5 437.02V437.38M656.5 436.12V437.7M657.5 437.5V439.8M658.5 436V436.5M659.5 438V438.51M660.5 437.05V438.58M661.5 436.23V440.1M662.5 435.65V436.63M663.5 438.21V440.65M664.5 438.08V439.7M665.5 436.06V441.01M666.5 438.23V438.54M667.5 437.12V444.2M668.5 436.83V440.42M669.5 436.94V439.47M670.5 436.8V439.53M671.5 438.07V441.87M672.5 437.11V437.53M673.5 435.62V437.38M674.5 438.56V441.18M675.5 437.66V438.42M676.5 436.19V437.99M677.5 436.73V439.5M678.5 436.32V439.42M679.5 437.03V437.42M680.5 437.29V438.13M681.5 437.18V438.73M682.5 436.55V444.93M683.5 436.4V440.62M684.5 437.63V439.84M685.5 436.92V437.21M686.5 438.68V445.7M687.5 436.4V437.35M688.5 437.59V445.77M689.5 437.04V437.52M690.5 436.43V436.84M691.5 438.02V440.25M692.5 437.09V439.67M693.5 436.33V437.84M694.5 436.76V437.28M695.5 437.76V447.54M696.5 436.08V442.09M697.5 438.03V438.76M698.5 437.51V439.04M699.5 436.79V437.57M700.5 438.01V439.61" fill="none" stroke="#2f6a2f" stroke-opacity="0.8" stroke-width="1"/>
<path d="M253.5 514.92V515.71M254.5 513.76V515.24M255.5 514.63V516.22M256.5 513.66V515.12M257.5 513.47V514.58M258.5 515.06V515.17M259.5 512.16V515.66M260.5 515.75V515.8M261.5 514.88V516.09M262.5 515.68V516.37M263.5 514.44V517.16M264.5 514.38V516.82M265.5 516.64V518.23M266.5 517.13V517.7M267.5 517.79V518.83M268.5 518.04V518.97M269.5 515.13V518.38M270.5 517.4V518.36M271.5 518.13V520.25M272.5 516.9V520.33M273.5 517.15V517.6M274.5 516.48V519.19M275.5 518.68V518.92M276.5 517.83V519.6M277.5 517.26V518M278.5 516.89V519.02M279.5 516.57V520.34M280.5 517.12V517.43M281.5 516.59V518.31M282.5 516.39V518.34M283.5 514.88V517.4M284.5 519.76V521.54M285.5 516.13V521.32M286.5 521.39V521.63M287.5 518.96V521.02M288.5 520.83V521.27M289.5 519.31V521.67M290.5 516.9V519.35M291.5 519.6V520.36M292.5 520.05V520.09M293.5 520.12V520.18M294.5 520.9V522.09M295.5 517.83V521.31M296.5 516.09V521.25M297.5 519.36V521.06M298.5 518.38V519.21M299.5 518.61V521.2M300.5 521.21V521.92M301.5 515.8V520.88M302.5 519.69V521.72M303.5 519.28V521.28M304.5 519.05V519.67M305.5 518.58V521.19M306.5 516.45V520.88M307.5 521.32V521.38M308.5 524.41V525.93M309.5 526.29V526.99M310.5 522.49V525.78M311.5 519.21V524.38M312.5 523.45V524.17M313.5 523.68V524.36M314.5 524.48V525.53M315.5 524.67V526.14M316.5 523.92V525.7M317.5 521.53V523.88M318.5 523.14V523.46M319.5 524.6V524.98M320.5 523.54V524.19M321.5 522.47V524.44M322.5 523.24V525.75M323.5 523.15V526.32M324.5 525.46V526.35M325.5 523.99V525.82M326.5 527.87V529.42M327.5 525.94V528.05M328.5 523.89V526.81M329.5 526.91V528.73M330.5 527.08V528.16M331.5 528.56V529.42M332.5 527.37V527.53M333.5 525.21V527.27M334.5 525.46V526.64M335.5 525.94V526.28M336.5 527.54V528.43M337.5 527.73V528.4M338.5 530V530.77M339.5 526.53V529.42M340.5 527.02V527.89M341.5 529.65V531.11M342.5 529.03V529.6M343.5 525.4V528.12M344.5 528.96V531.99M345.5 530.28V531.29M346.5 529.54V531.14M347.5 528.27V533.4M348.5 529.86V532.13M349.5 530.77V531.53M350.5 529.88V531.31M351.5 533.52V533.67M352.5 534.53V535.63M353.5 532.42V534.21M354.5 528.16V533.34M355.5 533.31V534.07M356.5 530.48V532.37M357.5 524.68V530.73M358.5 530.05V530.2M359.5 528.53V529.63M360.5 526.81V532.13M361.5 532.38V533.02M362.5 532.32V532.56M363.5 532.2V533.12M364.5 534.33V534.79M365.5 530.94V533.59M366.5 533.26V535.01M367.5 532.56V534.69M368.5 536.2V536.39M369.5 534.08V534.7M370.5 533.8V534.44M371.5 532.72V533.39M372.5 531.59V534.86M373.5 534.92V535.74M374.5 533.32V535.06M375.5 529.94V533.23M376.5 532.78V533.71M377.5 532.18V532.34M378.5 530.83V531.37M379.5 531.39V532.14M380.5 525.24V530.82M381.5 528.9V530.57M382.5 528.85V530.43M383.5 529.99V531.48M384.5 532.48V532.72M385.5 531.01V531.4M386.5 529.29V531.29M387.5 528.72V529.85M388.5 527.17V528.69M389.5 521.06V527.32M390.5 528.12V529.37M391.5 528.35V529.38M392.5 529.73V530.87M393.5 527.85V529.98M394.5 527.94V528.51M395.5 526.65V527.63M396.5 524.14V526.04M397.5 525.48V527.77M398.5 529.23V529.4M399.5 525.76V529.27M400.5 526.76V530.68M401.5 528.27V529.86M402.5 525.62V528.67M403.5 527.08V528.18M404.5 526.8V528.89M405.5 525.9V527.61M406.5 526.09V526.3M407.5 527.17V527.57M408.5 526.64V527.1M409.5 528.23V528.58M410.5 527.73V528.51M411.5 526.98V527.84M412.5 525.75V527.27M413.5 525.97V526.95M414.5 520.66V523.18M415.5 522.62V523.4M416.5 522.74V525.74M417.5 521.28V523.13M418.5 520.85V523.69M419.5 519.91V523.35M420.5 522.5V523.83M421.5 524.86V525.9M422.5 525.68V526.74M423.5 525.29V525.53M424.5 520.29V527.18M425.5 524.82V525.04M426.5 523.86V524.52M427.5 522.38V523.45M428.5 518.65V522.05M429.5 522.22V524.02M430.5 524.39V525.29M431.5 522.75V525.97M432.5 523.86V524.66M433.5 519.7V522.74M434.5 520.21V521.07M435.5 519.55V521.45M436.5 520.74V522.18M437.5 520.62V521.12M438.5 518.31V520.15M439.5 520.38V520.77M440.5 518.29V518.89M441.5 517.8V519.86M442.5 520.67V521.95M443.5 516.99V519.47M444.5 520.47V522.52M445.5 519.03V520.95M446.5 522.01V524.39M447.5 523.2V523.26M448.5 519.22V521.75M449.5 516.53V523.07M450.5 520.15V522.64M451.5 519.76V522.77M452.5 519.09V521.98M453.5 520.53V521.91M454.5 517.51V517.99M455.5 518.82V520.26M456.5 517.34V518.96M457.5 519.16V520.1M458.5 520.19V520.6M459.5 519.44V520.44M460.5 520.21V520.67M461.5 519.7V520.07M462.5 516.87V519.19M463.5 518.34V520.06M464.5 517.39V520.94M465.5 516.17V518.78M466.5 517.69V520.67M467.5 519.55V519.64M468.5 519.38V520.01M469.5 519.06V519.86M470.5 520.06V520.54M471.5 516.2V519.2M472.5 516.39V518.14M473.5 515.74V515.8M474.5 516.23V516.5M475.5 517.73V518.45M476.5 517.12V517.97M477.5 516.77V518.73M478.5 518.23V519.23M479.5 517.63V518.28M480.5 519.33V519.69M481.5 517.05V517.31M482.5 515.37V515.62M483.5 516.39V516.63M484.5 515.38V515.91M485.5 518.04V518.4M486.5 516.93V517.98M487.5 516.11V517.85M488.5 517.33V518.34M489.5 515.41V517.43" fill="none" stroke="#2020d0" stroke-opacity="0.72" stroke-width="1"/>
<path d="M253.5 515.71V518.13M254.5 515.24V517.53M255.5 516.22V519.18M256.5 515.12V517.27M257.5 514.58V517.48M258.5 515.17V517.42M259.5 515.66V517.85M260.5 515.8V518.08M261.5 516.09V518.35M262.5 516.37V518.8M263.5 517.16V520.11M264.5 516.82V519.15M265.5 518.23V520.9M266.5 517.7V520.14M267.5 518.83V521.36M268.5 518.97V520.99M269.5 518.38V521.57M270.5 518.36V521M271.5 520.25V522.54M272.5 520.33V522.34M273.5 517.6V519.74M274.5 519.19V521.4M275.5 518.92V521.41M276.5 519.6V522.18M277.5 518V520.53M278.5 519.02V521.09M279.5 520.34V522.86M280.5 517.43V520.15M281.5 518.31V521.59M282.5 518.34V520.75M283.5 517.4V519.57M284.5 521.54V525.38M285.5 521.32V523.48M286.5 521.63V524.42M287.5 521.02V523.67M288.5 521.27V524.91M289.5 521.67V523.76M290.5 519.35V521.88M291.5 520.36V522.5M292.5 520.09V522.79M293.5 520.18V522.99M294.5 522.09V524.73M295.5 521.31V524.51M296.5 521.25V523.5M297.5 521.06V523.19M298.5 519.21V521.23M299.5 521.2V523.69M300.5 521.92V523.94M301.5 520.88V522.91M302.5 521.72V524.31M303.5 521.28V524.11M304.5 519.67V523.16M305.5 521.19V523.42M306.5 520.88V524.17M307.5 521.38V524.33M308.5 525.93V528.16M309.5 526.99V529.16M310.5 525.78V528.86M311.5 524.38V526.98M312.5 524.17V526.38M313.5 524.36V526.87M314.5 525.53V528.58M315.5 526.14V528.54M316.5 525.7V529.61M317.5 523.88V526.33M318.5 523.46V526.55M319.5 524.98V527.8M320.5 524.19V526.32M321.5 524.44V526.65M322.5 525.75V528.44M323.5 526.32V528.71M324.5 526.35V530.24M325.5 525.82V528.73M326.5 529.42V533.09M327.5 528.05V530.9M328.5 526.81V529.28M329.5 528.73V531.53M330.5 528.16V530.28M331.5 529.42V532.16M332.5 527.53V529.84M333.5 527.27V529.98M334.5 526.64V530.69M335.5 526.28V529.66M336.5 528.43V532.29M337.5 528.4V531.13M338.5 530.77V532.82M339.5 529.42V532.28M340.5 527.89V529.97M341.5 531.11V534.8M342.5 529.6V532.66M343.5 528.12V530.36M344.5 531.99V535.55M345.5 531.29V533.71M346.5 531.14V534.46M347.5 533.4V536.52M348.5 532.13V535.31M349.5 531.53V534.18M350.5 531.31V534.7M351.5 533.67V535.97M352.5 535.63V539.29M353.5 534.21V536.72M354.5 533.34V535.77M355.5 534.07V536.74M356.5 532.37V535.34M357.5 530.73V534.26M358.5 530.2V533.25M359.5 529.63V531.69M360.5 532.13V535.6M361.5 533.02V536.24M362.5 532.56V535.62M363.5 533.12V536.82M364.5 534.79V537.93M365.5 533.59V536.94M366.5 535.01V537.95M367.5 534.69V538.3M368.5 536.39V539.92M369.5 534.7V537.43M370.5 534.44V539.44M371.5 533.39V535.44M372.5 534.86V537.22M373.5 535.74V541.19M374.5 535.06V538.02M375.5 533.23V536.09M376.5 533.71V536.37M377.5 532.34V536.73M378.5 531.37V535.05M379.5 532.14V536.22M380.5 530.82V535.49M381.5 530.57V536.63M382.5 530.43V533.28M383.5 531.48V533.99M384.5 532.72V538.8M385.5 531.4V534.36M386.5 531.29V533.36M387.5 529.85V533.79M388.5 528.69V531.75M389.5 527.32V529.64M390.5 529.37V531.4M391.5 529.38V531.9M392.5 530.87V533.34M393.5 529.98V533.17M394.5 528.51V531.8M395.5 527.63V531.31M396.5 526.04V529.49M397.5 527.77V530.66M398.5 529.4V531.69M399.5 529.27V532.7M400.5 530.68V532.84M401.5 529.86V532.6M402.5 528.67V531.67M403.5 528.18V530.94M404.5 528.89V531.48M405.5 527.61V530.68M406.5 526.3V529.15M407.5 527.57V530.5M408.5 527.1V529.56M409.5 528.58V530.74M410.5 528.51V531.54M411.5 527.84V529.86M412.5 527.27V530.75M413.5 526.95V529.32M414.5 523.18V525.79M415.5 523.4V526.29M416.5 525.74V528.65M417.5 523.13V525.89M418.5 523.69V526.09M419.5 523.35V525.77M420.5 523.83V525.84M421.5 525.9V528.93M422.5 526.74V529.2M423.5 525.53V529.45M424.5 527.18V529.53M425.5 525.04V528.82M426.5 524.52V527.64M427.5 523.45V528.03M428.5 522.05V524.13M429.5 524.02V526.04M430.5 525.29V528.61M431.5 525.97V528.4M432.5 524.66V527.03M433.5 522.74V525.03M434.5 521.07V523.49M435.5 521.45V524.67M436.5 522.18V524.47M437.5 521.12V523.33M438.5 520.15V522.2M439.5 520.77V523M440.5 518.89V520.98M441.5 519.86V522.86M442.5 521.95V524.43M443.5 519.47V521.56M444.5 522.52V524.65M445.5 520.95V523.88M446.5 524.39V527.1M447.5 523.26V526.36M448.5 521.75V523.79M449.5 523.07V525.25M450.5 522.64V526.3M451.5 522.77V524.81M452.5 521.98V525.35M453.5 521.91V524.62M454.5 517.99V520.24M455.5 520.26V523.23M456.5 518.96V521.5M457.5 520.1V522.54M458.5 520.6V523.03M459.5 520.44V523.59M460.5 520.67V523.57M461.5 520.07V522.21M462.5 519.19V521.27M463.5 520.06V522.4M464.5 520.94V523.17M465.5 518.78V520.91M466.5 520.67V523.07M467.5 519.64V521.75M468.5 520.01V523.57M469.5 519.86V522.38M470.5 520.54V522.86M471.5 519.2V521.28M472.5 518.14V521.15M473.5 515.8V518.56M474.5 516.5V520.11M475.5 518.45V521.35M476.5 517.97V520.27M477.5 518.73V521.57M478.5 519.23V521.39M479.5 518.28V520.67M480.5 519.69V522.27M481.5 517.31V519.65M482.5 515.62V518.76M483.5 516.63V519.38M484.5 515.91V517.94M485.5 518.4V520.61M486.5 517.98V520.38M487.5 517.85V519.96M488.5 518.34V520.44M489.5 517.43V519.83" fill="none" stroke="#0000e6" stroke-width="1"/>
<path d="M218.5 513.22V515.91M219.5 512.93V516.48M220.5 513.97V517.51M221.5 514.15V517.91M222.5 514.21V518.3M223.5 513.85V518.5M224.5 513.85V518.44M225.5 513.57V517.43M226.5 513.94V517.79M227.5 513.98V518.91M228.5 514.85V519.16M229.5 514.51V519.19M230.5 514.94V521.59M231.5 516.75V521.73M232.5 516.42V522.83M233.5 516.65V522.89M234.5 517.08V523.43M235.5 516.31V523.63M236.5 516.67V523.16M237.5 515.32V522.91M238.5 514.78V521.49M239.5 515.22V520.9M240.5 515.73V521.23M241.5 515V521.7M242.5 514.7V522.12M243.5 515.82V521.6M244.5 515.69V521.91M245.5 514.94V521.22M246.5 515.74V522.83M247.5 515.13V523.28M248.5 516.01V522.58M249.5 513.88V522.59M250.5 516.68V523.4M251.5 513.79V522.88M252.5 513.74V521.23M253.5 517.13V523.72M254.5 516.53V522.78M255.5 518.18V524.01M256.5 516.27V523.36M257.5 516.48V522.79M258.5 516.42V523.77M259.5 516.85V523.23M260.5 517.08V527.33M261.5 517.35V526.82M262.5 517.8V527.22M263.5 519.11V525.89M264.5 518.15V526.43M265.5 519.9V528.53M266.5 519.14V527.93M267.5 520.36V528.29M268.5 519.99V528.25M269.5 520.57V529M270.5 520V529.09M271.5 521.54V529.6M272.5 521.34V528.72M273.5 518.74V528.65M274.5 520.4V529.7M275.5 520.41V528.76M276.5 521.18V529.73M277.5 519.53V528.47M278.5 520.09V528.89M279.5 521.86V530.09M280.5 519.15V530.38M281.5 520.59V529.88M282.5 519.75V529.43M283.5 518.57V530.18M284.5 524.38V531.57M285.5 522.48V531.73M286.5 523.42V532.97M287.5 522.67V533.04M288.5 523.91V532.93M289.5 522.76V533.18M290.5 520.88V531.43M291.5 521.5V532.56M292.5 521.79V533.13M293.5 521.99V533.13M294.5 523.73V534.26M295.5 523.51V532.73M296.5 522.5V533.57M297.5 522.19V533.82M298.5 520.23V533.96M299.5 522.69V534.92M300.5 522.94V536.09M301.5 521.91V534.21M302.5 523.31V536.36M303.5 523.11V534.47M304.5 522.16V532.53M305.5 522.42V534.93M306.5 523.17V535.5M307.5 523.33V536.26M308.5 527.16V539.34M309.5 528.16V539.13M310.5 527.86V538.75M311.5 525.98V538.72M312.5 525.38V538.82M313.5 525.87V540.5M314.5 527.58V536.63M315.5 527.54V541.32M316.5 528.61V540.84M317.5 525.33V540.21M318.5 525.55V538.59M319.5 526.8V539.5M320.5 525.32V539.35M321.5 525.65V540.4M322.5 527.44V541.47M323.5 527.71V540.69M324.5 529.24V541.02M325.5 527.73V542.21M326.5 532.09V542.92M327.5 529.9V543.72M328.5 528.28V542.5M329.5 530.53V544.87M330.5 529.28V544.03M331.5 531.16V544.02M332.5 528.84V543.25M333.5 528.98V543.78M334.5 529.69V540.3M335.5 528.66V543.26M336.5 531.29V545.3M337.5 530.13V546.46M338.5 531.82V546.34M339.5 531.28V546.21M340.5 528.97V547.63M341.5 533.8V549.53M342.5 531.66V546.62M343.5 529.36V547.49M344.5 534.55V549.42M345.5 532.71V548.85M346.5 533.46V548.13M347.5 535.52V549.78M348.5 534.31V550.67M349.5 533.18V552.85M350.5 533.7V550.29M351.5 534.97V552.98M352.5 538.29V555.14M353.5 535.72V550.36M354.5 534.77V551.02M355.5 535.74V554.16M356.5 534.34V551.99M357.5 533.26V551.23M358.5 532.25V549.78M359.5 530.69V550.46M360.5 534.6V550.15M361.5 535.24V555.55M362.5 534.62V551.19M363.5 535.82V550.47M364.5 536.93V553.27M365.5 535.94V555.86M366.5 536.95V553.75M367.5 537.3V554.7M368.5 538.92V553.71M369.5 536.43V554.48M370.5 538.44V553.02M371.5 534.44V552.5M372.5 536.22V552.35M373.5 540.19V553.62M374.5 537.02V556.4M375.5 535.09V553.29M376.5 535.37V552.21M377.5 535.73V554.83M378.5 534.05V550.48M379.5 535.22V549.78M380.5 534.49V551.08M381.5 535.63V548.38M382.5 532.28V550.26M383.5 532.99V551.74M384.5 537.8V549.9M385.5 533.36V550.16M386.5 532.36V551.52M387.5 532.79V547.28M388.5 530.75V545.72M389.5 528.64V546.05M390.5 530.4V546.81M391.5 530.9V546.28M392.5 532.34V549.75M393.5 532.17V547.14M394.5 530.8V547.35M395.5 530.31V544.83M396.5 528.49V545.42M397.5 529.66V543.94M398.5 530.69V547.54M399.5 531.7V546.05M400.5 531.84V548.1M401.5 531.6V544.77M402.5 530.67V544.83M403.5 529.94V545.72M404.5 530.48V544.87M405.5 529.68V543.87M406.5 528.15V543.13M407.5 529.5V542.04M408.5 528.56V543.14M409.5 529.74V540.37M410.5 530.54V544.61M411.5 528.86V546.19M412.5 529.75V543.62M413.5 528.32V542.84M414.5 524.79V539.17M415.5 525.29V539.17M416.5 527.65V539.85M417.5 524.89V539.38M418.5 525.09V539.58M419.5 524.77V536.29M420.5 524.84V539.88M421.5 527.93V540.82M422.5 528.2V541.81M423.5 528.45V540M424.5 528.53V542.54M425.5 527.82V540.87M426.5 526.64V537.81M427.5 527.03V537.15M428.5 523.13V537.76M429.5 525.04V537.72M430.5 527.61V538.87M431.5 527.4V538.59M432.5 526.03V539.74M433.5 524.03V535.37M434.5 522.49V534.02M435.5 523.67V534.21M436.5 523.47V534.83M437.5 522.33V534.35M438.5 521.2V534.12M439.5 522V533.5M440.5 519.98V532.99M441.5 521.86V535.1M442.5 523.43V535.19M443.5 520.56V535.33M444.5 523.65V535.74M445.5 522.88V534.46M446.5 526.1V536.86M447.5 525.36V535.34M448.5 522.79V535.87M449.5 524.25V534.98M450.5 525.3V533.45M451.5 523.81V533.52M452.5 524.35V533.5M453.5 523.62V532.34M454.5 519.24V530.79M455.5 522.23V531.84M456.5 520.5V530.18M457.5 521.54V530.79M458.5 522.03V531.89M459.5 522.59V531.17M460.5 522.57V531.32M461.5 521.21V531.94M462.5 520.27V530.78M463.5 521.4V530.01M464.5 522.17V530.62M465.5 519.91V529.08M466.5 522.07V530.97M467.5 520.75V530.71M468.5 522.57V529.4M469.5 521.38V531.05M470.5 521.86V530.61M471.5 520.28V527.91M472.5 520.15V527.62M473.5 517.56V527.4M474.5 519.11V526.15M475.5 520.35V528.94M476.5 519.27V527.15M477.5 520.57V526.11M478.5 520.39V527.11M479.5 519.67V526.24M480.5 521.27V528.65M481.5 518.65V527.17M482.5 517.76V526.12M483.5 518.38V524.99M484.5 516.94V523.5M485.5 519.61V526.58M486.5 519.38V527.34M487.5 518.96V525.8M488.5 519.44V525.75M489.5 518.83V524.99M490.5 516.52V523.72M491.5 515.23V523.39M492.5 516.19V522.39M493.5 515.56V522.84M494.5 515.54V522.61M495.5 514.07V521.71M496.5 513.9V520.57M497.5 513.43V520.59M498.5 513.22V520.62M499.5 514.35V521.4M500.5 514.84V521.37M501.5 514.51V520.83M502.5 515.75V520.97M503.5 514.67V520.67M504.5 516.34V521.47M505.5 515.25V521.46M506.5 515.04V520.62M507.5 514.65V520.36M508.5 514.28V519.73M509.5 514.74V520.52M510.5 514.86V520.36M511.5 515.06V520.16M512.5 513.88V519.58M513.5 514.92V520.25M514.5 514.72V520.24M515.5 515.07V520.09M516.5 515.24V520.46M517.5 514.37V519.39M518.5 513.91V518.31M519.5 513.92V518.65M520.5 514.13V518.1M521.5 513.68V517.63M522.5 513.69V516.94M523.5 513.24V516.6M524.5 514.39V518.26M525.5 513.79V518.16" fill="none" stroke="#008000" stroke-width="1"/>
<path d="M218.5 515.91V517.14M219.5 516.48V517.68M220.5 517.51V522.9M221.5 517.91V523.62M222.5 518.3V518.51M223.5 518.5V524.37M224.5 518.44V520.98M225.5 517.43V518.61M226.5 517.79V520.06M227.5 518.91V519.62M228.5 519.16V519.35M229.5 519.19V519.6M230.5 521.59V522.17M231.5 521.73V522.24M232.5 522.83V525.53M233.5 522.89V523.36M234.5 523.43V526.82M235.5 523.63V524.97M236.5 523.16V524.54M237.5 522.91V524.96M238.5 521.49V522.61M239.5 520.9V520.94M240.5 521.23V521.49M241.5 521.7V525.5M242.5 522.12V528.41M243.5 521.6V526.27M244.5 521.91V522.48M245.5 521.22V524.56M246.5 522.83V526.18M247.5 523.28V525.58M248.5 522.58V523.19M249.5 522.59V528.07M250.5 523.4V524.87M251.5 522.88V523.67M252.5 521.23V521.64M253.5 523.72V524.16M254.5 522.78V523.29M255.5 524.01V524.01M256.5 523.36V524.91M257.5 522.79V524.37M258.5 523.77V524.82M259.5 523.23V524.63M260.5 527.33V528.44M261.5 526.82V527.51M262.5 527.22V528.8M263.5 525.89V529.52M264.5 526.43V527.94M265.5 528.53V530.29M266.5 527.93V530.46M267.5 528.29V536.01M268.5 528.25V529.5M269.5 529V530.58M270.5 529.09V530.36M271.5 529.6V532.05M272.5 528.72V530.78M273.5 528.65V531.51M274.5 529.7V530.93M275.5 528.76V532.78M276.5 529.73V531.37M277.5 528.47V529.83M278.5 528.89V530.67M279.5 530.09V531.73M280.5 530.38V535.01M281.5 529.88V530.87M282.5 529.43V531.15M283.5 530.18V534.25M284.5 531.57V532.45M285.5 531.73V539.33M286.5 532.97V534.77M287.5 533.04V536.75M288.5 532.93V539.9M289.5 533.18V534.36M290.5 531.43V533.68M291.5 532.56V533.54M292.5 533.13V535.38M293.5 533.13V534.79M294.5 534.26V534.28M295.5 532.73V534.69M296.5 533.57V536.9M297.5 533.82V534.89M298.5 533.96V538.7M299.5 534.92V538.06M300.5 536.09V538.15M301.5 534.21V535.16M302.5 536.36V541.65M303.5 534.47V537.48M304.5 532.53V532.59M305.5 534.93V541.03M306.5 535.5V540.29M307.5 536.26V536.9M308.5 539.34V539.72M309.5 539.13V545.39M310.5 538.75V542.53M311.5 538.72V541M312.5 538.82V539.48M313.5 540.5V541.59M314.5 536.63V537.06M315.5 541.32V543.33M316.5 540.84V543.61M317.5 540.21V540.27M318.5 538.59V539.1M319.5 539.5V539.86M320.5 539.35V545.5M321.5 540.4V546.49M322.5 541.47V544.86M323.5 540.69V545.34M324.5 541.02V541.52M325.5 542.21V546.47M326.5 542.92V546.96M327.5 543.72V549.82M328.5 542.5V544.89M329.5 544.87V546.82M330.5 544.03V544.7M331.5 544.02V547.11M332.5 543.25V543.89M333.5 543.78V546.63M334.5 540.3V542.58M335.5 543.26V543.85M336.5 545.3V546.87M337.5 546.46V547.23M338.5 546.34V547.73M339.5 546.21V553.73M340.5 547.63V551.33M341.5 549.53V550.78M342.5 546.62V550.28M343.5 547.49V550.69M344.5 549.42V556.42M345.5 548.85V550.92M346.5 548.13V553.39M347.5 549.78V555.11M348.5 550.67V554.31M349.5 552.85V557.06M350.5 550.29V555.61M351.5 552.98V555.56M352.5 555.14V555.6M353.5 550.36V552.91M354.5 551.02V554.31M355.5 554.16V556.91M356.5 551.99V554.71M357.5 551.23V553.38M358.5 549.78V550.64M359.5 550.46V553.57M360.5 550.15V552.6M361.5 555.55V563.57M362.5 551.19V552.57M363.5 550.47V550.98M364.5 553.27V555.91M365.5 555.86V559.67M366.5 553.75V558.62M367.5 554.7V561.6M368.5 553.71V558.83M369.5 554.48V556.9M370.5 553.02V553.83M371.5 552.5V556.53M372.5 552.35V553.98M373.5 553.62V557.53M374.5 556.4V559.75M375.5 553.29V558.6M376.5 552.21V552.3M377.5 554.83V559.62M378.5 550.48V556.7M379.5 549.78V556.47M380.5 551.08V554.54M381.5 548.38V553.79M382.5 550.26V554.27M383.5 551.74V556.86M384.5 549.9V552.56M385.5 550.16V553.45M386.5 551.52V552.46M387.5 547.28V550.66M388.5 545.72V550.37M389.5 546.05V550.11M390.5 546.81V547.38M391.5 546.28V548.42M392.5 549.75V549.95M393.5 547.14V548.77M394.5 547.35V549.71M395.5 544.83V551.79M396.5 545.42V550.12M397.5 543.94V544.61M398.5 547.54V550.27M399.5 546.05V552.88M400.5 548.1V548.43M401.5 544.77V546.71M402.5 544.83V547.62M403.5 545.72V548.69M404.5 544.87V546.02M405.5 543.87V544.73M406.5 543.13V546.08M407.5 542.04V545.51M408.5 543.14V544.97M409.5 540.37V541.86M410.5 544.61V549.59M411.5 546.19V551.68M412.5 543.62V543.94M413.5 542.84V554.13M414.5 539.17V540.34M415.5 539.17V540.42M416.5 539.85V545.28M417.5 539.38V546.94M418.5 539.58V540.36M419.5 536.29V538.34M420.5 539.88V541.56M421.5 540.82V541.92M422.5 541.81V544.22M423.5 540V542.29M424.5 542.54V545.29M425.5 540.87V541.04M426.5 537.81V542.82M427.5 537.15V537.28M428.5 537.76V541.13M429.5 537.72V539.86M430.5 538.87V539.62M431.5 538.59V540.16M432.5 539.74V540.43M433.5 535.37V536.31M434.5 534.02V534.29M435.5 534.21V534.51M436.5 534.83V536.96M437.5 534.35V537.28M438.5 534.12V534.92M439.5 533.5V533.5M440.5 532.99V539.09M441.5 535.1V535.49M442.5 535.19V536.49M443.5 535.33V537.64M444.5 535.74V536.45M445.5 534.46V534.63M446.5 536.86V538.66M447.5 535.34V536.66M448.5 535.87V538.6M449.5 534.98V535.35M450.5 533.45V537.78M451.5 533.52V535.74M452.5 533.5V534.37M453.5 532.34V532.83M454.5 530.79V532.31M455.5 531.84V532.98M456.5 530.18V531.4M457.5 530.79V534.61M458.5 531.89V532.36M459.5 531.17V533.1M460.5 531.32V532.8M461.5 531.94V532.73M462.5 530.78V539.61M463.5 530.01V530.32M464.5 530.62V533.2M465.5 529.08V529.39M466.5 530.97V535.65M467.5 530.71V532.63M468.5 529.4V529.63M469.5 531.05V531.97M470.5 530.61V535.81M471.5 527.91V528.79M472.5 527.62V533.31M473.5 527.4V533.25M474.5 526.15V526.53M475.5 528.94V537.12M476.5 527.15V529.09M477.5 526.11V527.25M478.5 527.11V527.65M479.5 526.24V530.79M480.5 528.65V530.69M481.5 527.17V527.4M482.5 526.12V527.91M483.5 524.99V528.63M484.5 523.5V532.1M485.5 526.58V527.15M486.5 527.34V531.59M487.5 525.8V528.81M488.5 525.75V526.97M489.5 524.99V526.92M490.5 523.72V524.9M491.5 523.39V523.96M492.5 522.39V523.78M493.5 522.84V524.98M494.5 522.61V523M495.5 521.71V522.15M496.5 520.57V521.09M497.5 520.59V521.86M498.5 520.62V522.91M499.5 521.4V522.21M500.5 521.37V521.84M501.5 520.83V522.92M502.5 520.97V521.51M503.5 520.67V521.83M504.5 521.47V523.99M505.5 521.46V521.63M506.5 520.62V521.13M507.5 520.36V523.81M508.5 519.73V523.62M509.5 520.52V523.19M510.5 520.36V521.85M511.5 520.16V522.45M512.5 519.58V519.95M513.5 520.25V521.68M514.5 520.24V522.54M515.5 520.09V521.01M516.5 520.46V521.09M517.5 519.39V522.63M518.5 518.31V520.27M519.5 518.65V520.09M520.5 518.1V522.05M521.5 517.63V519.6M522.5 516.94V520.26M523.5 516.6V517.56M524.5 518.26V518.73M525.5 518.16V518.39" fill="none" stroke="#2f6a2f" stroke-opacity="0.85" stroke-width="1"/>
<path d="M37 511.5H218.17M533.09 511.5H701" fill="none" stroke="#008000" stroke-width="1"/>
<path d="M65.5 511.5V513.32M66.5 511.5V515.2M67.5 511.5V513.66M204.5 511.5V514.95M205.5 511.5V516.49M206.5 511.5V514.58M122.5 511.5V513.23M123.5 511.5V514.66M124.5 511.5V515.91M125.5 511.5V514.46M126.5 511.5V513.33M134.5 511.5V512.84M135.5 511.5V514.13M136.5 511.5V514.45M137.5 511.5V513.75M138.5 511.5V513.03M123.5 511.5V513.15M124.5 511.5V513.92M125.5 511.5V513.12M125.5 511.5V514.04M126.5 511.5V516.49M127.5 511.5V514.86M68.5 511.5V513.56M69.5 511.5V514.91M70.5 511.5V513.49M217.5 511.5V513.01M218.5 511.5V514.54M219.5 511.5V515.13M220.5 511.5V514.35M221.5 511.5V513.28M131.5 511.5V514.59M132.5 511.5V516.77M133.5 511.5V514.59M134.5 511.5V514.33M186.5 511.5V513.01M187.5 511.5V513.98M188.5 511.5V514.46M189.5 511.5V514.02M190.5 511.5V512.88M79.5 511.5V513.17M80.5 511.5V514.6M81.5 511.5V516.47M82.5 511.5V514.29M83.5 511.5V513.31M140.5 511.5V513.22M141.5 511.5V515.07M142.5 511.5V516.54M143.5 511.5V514.71M144.5 511.5V513.22M81.5 511.5V514.6M152.5 511.5V514.27M153.5 511.5V517.33M154.5 511.5V514.2M133.5 511.5V516.58M184.5 511.5V512.82M185.5 511.5V513.64M186.5 511.5V513.87M187.5 511.5V513.35M188.5 511.5V512.73M74.5 511.5V513.37M75.5 511.5V515.28M76.5 511.5V513.61M210.5 511.5V514.91M213.5 511.5V512.74M214.5 511.5V513.28M215.5 511.5V514M216.5 511.5V513.46M217.5 511.5V512.6M136.5 511.5V513.96M90.5 511.5V514.85M607.5 511.5V514.43M630.5 511.5V513.49M631.5 511.5V514.97M632.5 511.5V513.41M606.5 511.5V515.86M548.5 511.5V516.63M679.5 511.5V513.43M680.5 511.5V514.86M681.5 511.5V516.75M682.5 511.5V515.3M683.5 511.5V513.62M684.5 511.5V515.43M611.5 511.5V513.97M612.5 511.5V516.43M613.5 511.5V513.91M653.5 511.5V515.4M562.5 511.5V513.82M563.5 511.5V515.01M564.5 511.5V516.33M565.5 511.5V515.48M566.5 511.5V513.96M601.5 511.5V514.33M602.5 511.5V517.13M603.5 511.5V514.12M551.5 511.5V514.33M552.5 511.5V517.33M553.5 511.5V514.72M682.5 511.5V515.03M683.5 511.5V518.03M643.5 511.5V513.45M644.5 511.5V515.91M645.5 511.5V513.67M546.5 511.5V514.96M547.5 511.5V516.84M548.5 511.5V514.58M590.5 511.5V513.02M591.5 511.5V514.06M592.5 511.5V514.64M593.5 511.5V513.84M594.5 511.5V512.89M579.5 511.5V517.13M690.5 511.5V515.08M691.5 511.5V517.83M692.5 511.5V514.53M656.5 511.5V513.3M657.5 511.5V514.29M658.5 511.5V513.57M663.5 511.5V512.71M664.5 511.5V513.34M665.5 511.5V514.05M666.5 511.5V513.41M667.5 511.5V512.84M586.5 511.5V514.44M587.5 511.5V515.81M588.5 511.5V514.15M669.5 511.5V513.16M670.5 511.5V514.61M671.5 511.5V513.06M616.5 511.5V513.91M540.5 511.5V512.71M541.5 511.5V513.3M542.5 511.5V514M543.5 511.5V513.17M544.5 511.5V512.69" fill="none" stroke="#008000" stroke-width="1"/>
<text class="tk" transform="translate(37.5 153.75) scale(1 1.065)" text-anchor="middle">0</text>
<text class="tk" transform="translate(120.38 153.75) scale(1 1.065)" text-anchor="middle">500</text>
<text class="tk" transform="translate(203.25 153.75) scale(1 1.065)" text-anchor="middle">1000</text>
<text class="tk" transform="translate(286.12 153.75) scale(1 1.065)" text-anchor="middle">1500</text>
<text class="tk" transform="translate(369 153.75) scale(1 1.065)" text-anchor="middle">2000</text>
<text class="tk" transform="translate(451.88 153.75) scale(1 1.065)" text-anchor="middle">2500</text>
<text class="tk" transform="translate(534.75 153.75) scale(1 1.065)" text-anchor="middle">3000</text>
<text class="tk" transform="translate(617.62 153.75) scale(1 1.065)" text-anchor="middle">3500</text>
<text class="tk" transform="translate(700.5 153.75) scale(1 1.065)" text-anchor="middle">4000</text>
<text class="tk" x="34" y="141" text-anchor="end">0</text>
<text class="tk" x="34" y="90.5" text-anchor="end">5</text>
<text class="tk" x="34" y="40" text-anchor="end">10</text>
<text class="tk" transform="translate(37.5 314.75) scale(1 1.065)" text-anchor="middle">0</text>
<text class="tk" transform="translate(120.38 314.75) scale(1 1.065)" text-anchor="middle">500</text>
<text class="tk" transform="translate(203.25 314.75) scale(1 1.065)" text-anchor="middle">1000</text>
<text class="tk" transform="translate(286.12 314.75) scale(1 1.065)" text-anchor="middle">1500</text>
<text class="tk" transform="translate(369 314.75) scale(1 1.065)" text-anchor="middle">2000</text>
<text class="tk" transform="translate(451.88 314.75) scale(1 1.065)" text-anchor="middle">2500</text>
<text class="tk" transform="translate(534.75 314.75) scale(1 1.065)" text-anchor="middle">3000</text>
<text class="tk" transform="translate(617.62 314.75) scale(1 1.065)" text-anchor="middle">3500</text>
<text class="tk" transform="translate(700.5 314.75) scale(1 1.065)" text-anchor="middle">4000</text>
<text class="tk" x="34" y="292" text-anchor="end">0</text>
<text class="tk" x="34" y="246.5" text-anchor="end">0.5</text>
<text class="tk" x="34" y="201" text-anchor="end">1</text>
<text class="tk" transform="translate(37.5 474.75) scale(1 1.065)" text-anchor="middle">0</text>
<text class="tk" transform="translate(120.38 474.75) scale(1 1.065)" text-anchor="middle">500</text>
<text class="tk" transform="translate(203.25 474.75) scale(1 1.065)" text-anchor="middle">1000</text>
<text class="tk" transform="translate(286.12 474.75) scale(1 1.065)" text-anchor="middle">1500</text>
<text class="tk" transform="translate(369 474.75) scale(1 1.065)" text-anchor="middle">2000</text>
<text class="tk" transform="translate(451.88 474.75) scale(1 1.065)" text-anchor="middle">2500</text>
<text class="tk" transform="translate(534.75 474.75) scale(1 1.065)" text-anchor="middle">3000</text>
<text class="tk" transform="translate(617.62 474.75) scale(1 1.065)" text-anchor="middle">3500</text>
<text class="tk" transform="translate(700.5 474.75) scale(1 1.065)" text-anchor="middle">4000</text>
<text class="tk" x="34" y="462" text-anchor="end">0</text>
<text class="tk" x="34" y="411.5" text-anchor="end">1</text>
<text class="tk" x="34" y="361" text-anchor="end">2</text>
<text class="tk" transform="translate(37.5 630.75) scale(1 1.065)" text-anchor="middle">0</text>
<text class="tk" transform="translate(120.38 630.75) scale(1 1.065)" text-anchor="middle">500</text>
<text class="tk" transform="translate(203.25 630.75) scale(1 1.065)" text-anchor="middle">1000</text>
<text class="tk" transform="translate(286.12 630.75) scale(1 1.065)" text-anchor="middle">1500</text>
<text class="tk" transform="translate(369 630.75) scale(1 1.065)" text-anchor="middle">2000</text>
<text class="tk" transform="translate(451.88 630.75) scale(1 1.065)" text-anchor="middle">2500</text>
<text class="tk" transform="translate(534.75 630.75) scale(1 1.065)" text-anchor="middle">3000</text>
<text class="tk" transform="translate(617.62 630.75) scale(1 1.065)" text-anchor="middle">3500</text>
<text class="tk" transform="translate(700.5 630.75) scale(1 1.065)" text-anchor="middle">4000</text>
<text class="tk" x="34" y="618" text-anchor="end">−60</text>
<text class="tk" x="34" y="584.33" text-anchor="end">−40</text>
<text class="tk" x="34" y="550.67" text-anchor="end">−20</text>
<text class="tk" x="34" y="517" text-anchor="end">0</text>
<path d="M186.77 152.4H190.3V154.35H186.77ZM191.68 152.4H194.97V154.35H191.68ZM269.64 152.4H273.18V154.35H269.64ZM274.55 152.4H277.84V154.35H274.55ZM17.52 38.65H21.05V40.6H17.52ZM22.43 38.65H25.72V40.6H22.43ZM186.77 313.4H190.3V315.35H186.77ZM191.68 313.4H194.97V315.35H191.68ZM269.64 313.4H273.18V315.35H269.64ZM274.55 313.4H277.84V315.35H274.55ZM25.86 199.65H29.4V201.6H25.86ZM30.77 199.65H34.06V201.6H30.77ZM186.77 473.4H190.3V475.35H186.77ZM191.68 473.4H194.97V475.35H191.68ZM269.64 473.4H273.18V475.35H269.64ZM274.55 473.4H277.84V475.35H274.55ZM25.86 410.15H29.4V412.1H25.86ZM30.77 410.15H34.06V412.1H30.77ZM186.77 629.4H190.3V631.35H186.77ZM191.68 629.4H194.97V631.35H191.68ZM269.64 629.4H273.18V631.35H269.64ZM274.55 629.4H277.84V631.35H274.55Z" fill="#fff"/>
<text class="ti" x="178" y="22.3" textLength="380" lengthAdjust="spacingAndGlyphs">Coupling strength and Internal feedback gain</text>
<text class="ti" x="322" y="175.2" textLength="96" lengthAdjust="spacingAndGlyphs">Correlation</text>
<text class="ti" x="288.7" y="333.6" textLength="160.7" lengthAdjust="spacingAndGlyphs">Population outputs</text>
<text class="ti" x="312" y="493.2" textLength="112" lengthAdjust="spacingAndGlyphs">Control input</text>
<text class="ti" x="257.9" y="648.9" textLength="226.7" lengthAdjust="spacingAndGlyphs">simulation time in seconds</text>
</svg></body></html>
